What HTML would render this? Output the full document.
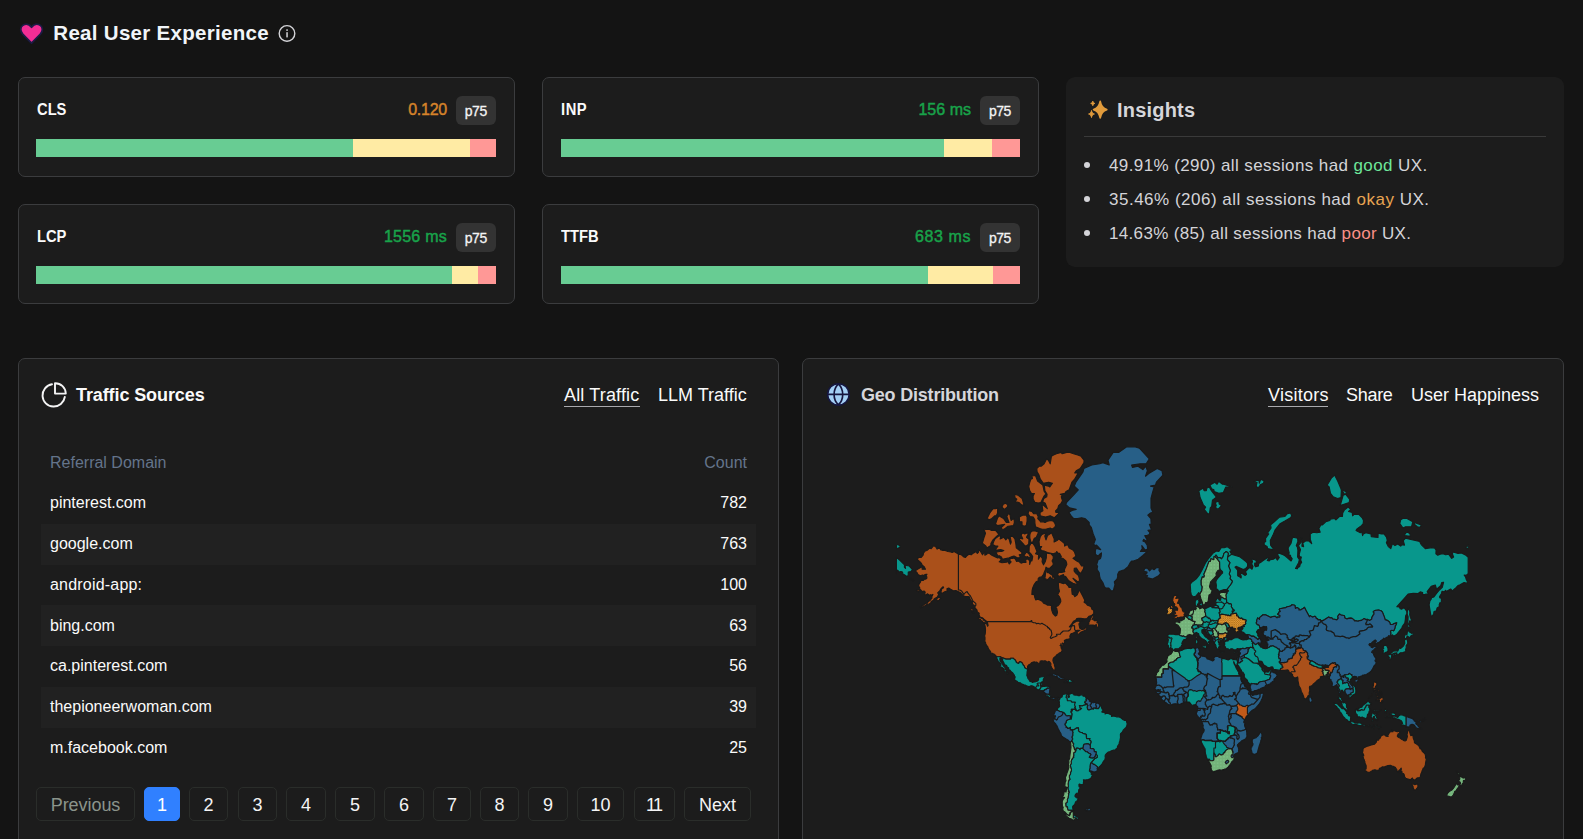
<!DOCTYPE html>
<html lang="en">
<head>
<meta charset="utf-8">
<title>Real User Experience</title>
<style>
*{box-sizing:border-box;margin:0;padding:0}
html,body{width:1583px;height:839px;overflow:hidden;background:#141414}
body{font-family:"Liberation Sans",Arial,sans-serif;color:#fff;position:relative}
.abs{position:absolute}
.t{position:absolute;white-space:nowrap;line-height:1}
.title{left:53.3px;top:22.6px;font-size:20.5px;font-weight:bold;color:#f1f5f9;letter-spacing:0.3px}
.card{position:absolute;background:#1c1c1c;border:1px solid #3b3c3e;border-radius:7px}
.mlabel{font-size:16px;font-weight:bold;color:#fafafa;letter-spacing:0;transform:scaleX(0.92);transform-origin:0 0}
.mval{font-size:16px;text-align:right;letter-spacing:0;-webkit-text-stroke:0.45px currentColor}
.badge{position:absolute;width:40.5px;height:29px;border-radius:6px;background:#333;color:#f4f4f5;font-size:14px;text-align:center;line-height:30px;letter-spacing:-0.45px;-webkit-text-stroke:0.3px currentColor}
.bar{position:absolute;height:18px;display:flex}
.bar i{display:block;height:100%}
.g{background:#68cc93}.y{background:#ffeba4}.r{background:#ff9896}
.green{color:#18a34a}.orange{color:#d6832a}
.ins{position:absolute;left:1066px;top:76.5px;width:498px;height:190px;border-radius:9px;background:#1c1c1c}
.li{font-size:17px;color:#d4d4d8;letter-spacing:0.4px}
.dot{position:absolute;width:6px;height:6px;border-radius:50%;background:#d4d4d8}
.tab{font-size:18px;color:#fafafa;letter-spacing:0}
.th{font-size:16px;color:#64748b;letter-spacing:0}
.td{font-size:16px;color:#fafafa;letter-spacing:0}
.row{position:absolute;left:41px;width:715px;height:41px;background:#212121}
.pg{position:absolute;top:787px;height:34px;border:1px solid #2a2d2a;border-radius:5px;font-size:18px;color:#f4f4f5;text-align:center;line-height:35px;letter-spacing:-0.05px}
.pg.on{background:#3080ff;border-color:#3080ff;color:#fff}
.pg.dis{color:#8b948b}
</style>
</head>
<body>

<!-- ===== Header ===== -->
<svg class="abs" style="left:16.7px;top:20px" width="29.1" height="26.9" viewBox="0 0 26 24">
  <path d="M13 20.6 L5.1 12.6 C2.6 10 2.9 6.4 5.2 4.8 C7.6 3.1 10.9 3.6 13 6.4 C15.1 3.6 18.4 3.1 20.8 4.8 C23.1 6.4 23.4 10 20.9 12.6 Z" fill="#f22d95" stroke="#1d1b45" stroke-width="1.6" stroke-linejoin="round"/>
</svg>
<div class="t title">Real User Experience</div>
<svg class="abs" style="left:277px;top:23px" width="20" height="20" viewBox="0 0 20 20">
  <circle cx="10" cy="10.4" r="7.8" fill="none" stroke="#d4d4d8" stroke-width="1.4"/>
  <rect x="9.3" y="9.2" width="1.5" height="5.2" fill="#d4d4d8"/>
  <rect x="9.3" y="6.3" width="1.5" height="1.6" fill="#d4d4d8"/>
</svg>

<!-- ===== Metric cards ===== -->
<div class="card" style="left:18px;top:76.5px;width:497px;height:100px"></div>
<div class="t mlabel" style="left:36.6px;top:102px">CLS</div>
<div class="t mval orange" style="right:1136px;top:102px;letter-spacing:-0.25px">0.120</div>
<div class="badge" style="left:455.5px;top:96px">p75</div>
<div class="bar" style="left:36px;top:139px;width:460px"><i class="g" style="width:317px"></i><i class="y" style="width:116.6px"></i><i class="r" style="width:26.4px"></i></div>

<div class="card" style="left:542px;top:76.5px;width:497px;height:100px"></div>
<div class="t mlabel" style="left:560.7px;top:102px;letter-spacing:0.6px">INP</div>
<div class="t mval green" style="right:612px;top:102px;letter-spacing:0.02px">156 ms</div>
<div class="badge" style="left:979.7px;top:96px">p75</div>
<div class="bar" style="left:561px;top:139px;width:459px"><i class="g" style="width:383px"></i><i class="y" style="width:48px"></i><i class="r" style="width:28px"></i></div>

<div class="card" style="left:18px;top:203.5px;width:497px;height:100px"></div>
<div class="t mlabel" style="left:36.6px;top:229px">LCP</div>
<div class="t mval green" style="right:1136px;top:229px;letter-spacing:0.25px">1556 ms</div>
<div class="badge" style="left:455.5px;top:223px">p75</div>
<div class="bar" style="left:36px;top:266px;width:460px"><i class="g" style="width:416px"></i><i class="y" style="width:26px"></i><i class="r" style="width:18px"></i></div>

<div class="card" style="left:542px;top:203.5px;width:497px;height:100px"></div>
<div class="t mlabel" style="left:560.7px;top:229px">TTFB</div>
<div class="t mval green" style="right:612px;top:229px;letter-spacing:0.6px">683 ms</div>
<div class="badge" style="left:979.7px;top:223px">p75</div>
<div class="bar" style="left:561px;top:266px;width:459px"><i class="g" style="width:367px"></i><i class="y" style="width:65px"></i><i class="r" style="width:27px"></i></div>

<!-- ===== Insights ===== -->
<div class="ins"></div>
<svg class="abs" style="left:1086px;top:96px" width="26" height="26" viewBox="0 0 26 26">
  <g fill="#e19b3c" stroke="#e19b3c" stroke-linejoin="round">
  <path stroke-width="1.7" d="M14.20 5.40 C15.10 10.20 17.60 12.70 20.80 13.60 C17.60 14.50 15.10 17.00 14.20 21.80 C13.30 17.00 10.80 14.50 7.60 13.60 C10.80 12.70 13.30 10.20 14.20 5.40 Z"/>
  <path stroke-width="0.9" d="M6.80 5.10 C7.10 6.50 7.70 7.10 8.90 7.40 C7.70 7.70 7.10 8.30 6.80 9.70 C6.50 8.30 5.90 7.70 4.70 7.40 C5.90 7.10 6.50 6.50 6.80 5.10 Z"/>
  <path stroke-width="1.0" d="M5.50 14.50 C5.90 16.80 6.70 17.60 8.40 18.00 C6.70 18.40 5.90 19.20 5.50 21.50 C5.10 19.20 4.30 18.40 2.60 18.00 C4.30 17.60 5.10 16.80 5.50 14.50 Z"/>
  </g>
</svg>
<div class="t" style="left:1117px;top:100px;font-size:20px;font-weight:bold;color:#d6d6da;letter-spacing:0.2px">Insights</div>
<div class="abs" style="left:1084px;top:136px;width:462px;height:1px;background:#3a3a3a"></div>
<div class="dot" style="left:1084px;top:162px"></div>
<div class="t li" style="left:1109px;top:157px">49.91% (290) all sessions had <span style="color:#6ee79a">good</span> UX.</div>
<div class="dot" style="left:1084px;top:196px"></div>
<div class="t li" style="left:1109px;top:191px;letter-spacing:0.5px">35.46% (206) all sessions had <span style="color:#e8a552">okay</span> UX.</div>
<div class="dot" style="left:1084px;top:230px"></div>
<div class="t li" style="left:1109px;top:225px;letter-spacing:0.33px">14.63% (85) all sessions had <span style="color:#fb8f87">poor</span> UX.</div>

<!-- ===== Traffic Sources ===== -->
<div class="card" style="left:18px;top:357.5px;width:761px;height:500px"></div>
<svg class="abs" style="left:39px;top:380px" width="30" height="30" viewBox="0 0 30 30">
  <path d="M13 4.3 A11.2 11.2 0 1 0 25.8 17" fill="none" stroke="#f4f4f5" stroke-width="1.9" stroke-linecap="round"/>
  <path d="M16 3.2 A10.6 10.6 0 0 1 26.8 13.6 L16 13.6 Z" fill="none" stroke="#f4f4f5" stroke-width="1.9" stroke-linejoin="round"/>
</svg>
<div class="t" style="left:76px;top:386px;font-size:18px;font-weight:bold;color:#fafafa;letter-spacing:-0.1px">Traffic Sources</div>
<div class="t tab" style="left:564px;top:386px;letter-spacing:0.15px">All Traffic</div>
<div class="abs" style="left:564px;top:406px;width:76px;height:1px;background:#a9a9ad"></div>
<div class="t tab" style="left:658px;top:386px">LLM Traffic</div>

<div class="t th" style="left:50px;top:455px">Referral Domain</div>
<div class="t th" style="right:836px;top:455px">Count</div>

<div class="row" style="top:524px"></div>
<div class="row" style="top:605px"></div>
<div class="row" style="top:687px"></div>

<div class="t td" style="left:50px;top:495px">pinterest.com</div><div class="t td" style="right:836px;top:495px">782</div>
<div class="t td" style="left:50px;top:536px">google.com</div><div class="t td" style="right:836px;top:536px">763</div>
<div class="t td" style="left:50px;top:577px;letter-spacing:0.2px">android-app:</div><div class="t td" style="right:836px;top:577px">100</div>
<div class="t td" style="left:50px;top:618px">bing.com</div><div class="t td" style="right:836px;top:618px">63</div>
<div class="t td" style="left:50px;top:658.4px">ca.pinterest.com</div><div class="t td" style="right:836px;top:658.4px">56</div>
<div class="t td" style="left:50px;top:699.2px">thepioneerwoman.com</div><div class="t td" style="right:836px;top:699.2px">39</div>
<div class="t td" style="left:50px;top:740px">m.facebook.com</div><div class="t td" style="right:836px;top:740px">25</div>

<div class="pg dis" style="left:36px;width:99px">Previous</div>
<div class="pg on" style="left:144px;width:36px">1</div>
<div class="pg" style="left:189px;width:39px">2</div>
<div class="pg" style="left:238px;width:39px">3</div>
<div class="pg" style="left:286px;width:40px">4</div>
<div class="pg" style="left:335px;width:40px">5</div>
<div class="pg" style="left:384px;width:40px">6</div>
<div class="pg" style="left:433px;width:38px">7</div>
<div class="pg" style="left:480px;width:39px">8</div>
<div class="pg" style="left:528px;width:40px">9</div>
<div class="pg" style="left:577px;width:47px">10</div>
<div class="pg" style="left:634px;width:41px;letter-spacing:-1.8px;text-indent:-1.8px">11</div>
<div class="pg" style="left:684px;width:67px">Next</div>

<!-- ===== Geo Distribution ===== -->
<div class="card" style="left:802px;top:357.5px;width:762px;height:500px"></div>
<svg class="abs" style="left:825.7px;top:381.9px" width="24.8" height="24.8" viewBox="0 0 24 24">
  <circle cx="12" cy="12" r="10.4" fill="#a3cff5" stroke="#15163f" stroke-width="1.5"/>
  <path d="M12 1.8 a14.5 14.5 0 0 0 0 20.4 a14.5 14.5 0 0 0 0 -20.4 M1.6 12 h20.8" fill="none" stroke="#15163f" stroke-width="1.6"/>
</svg>
<div class="t" style="left:861px;top:386px;font-size:18px;font-weight:bold;color:#d6d6da;letter-spacing:-0.2px">Geo Distribution</div>
<div class="t tab" style="left:1268px;top:386px;letter-spacing:0.25px">Visitors</div>
<div class="abs" style="left:1268px;top:406px;width:60px;height:1px;background:#a9a9ad"></div>
<div class="t tab" style="left:1346px;top:386px;letter-spacing:-0.3px">Share</div>
<div class="t tab" style="left:1411px;top:386px">User Happiness</div>

<!-- MAPSTART -->
<svg class="abs" style="left:0;top:0" width="1583" height="839" viewBox="0 0 1583 839">
<defs><pattern id="hx" width="2.2" height="2.2" patternUnits="userSpaceOnUse"><rect width="2.2" height="2.2" fill="#df9836"/><path d="M0 0L2.2 2.2M2.2 0L0 2.2" stroke="#b5741c" stroke-width="0.65"/></pattern><pattern id="dt" width="3.2" height="3.2" patternUnits="userSpaceOnUse"><rect width="3.2" height="3.2" fill="#74b27a"/><rect x="1.2" y="1.2" width="0.8" height="0.8" fill="#8fe3a3"/></pattern></defs>
<g stroke="#1a1a1a" stroke-width="1.15" stroke-linejoin="round">
<path fill="#275f87" d="M1066.4,502.5 1073.5,495.1 1078.3,489.8 1074.3,486.1 1075.9,482.2 1083,471.9 1083.8,468.5 1091.8,465 1099.7,463.8 1102.9,462.6 1109.2,465 1108,460.2 1113.2,452.4 1118.9,452.4 1126.7,446.8 1134.7,446.8 1139.4,448.2 1149.3,458.9 1146.2,463.8 1140.2,463.8 1131.6,465 1132.4,467.4 1138,466.2 1142.9,469.6 1145.9,466.2 1147.4,470.8 1145.5,476.2 1149.6,472.9 1157.2,468.5 1162,470.8 1162.9,475.1 1156.4,482.2 1155.5,485.1 1150.5,486.1 1154.2,487 1152.3,493.4 1151,498.5 1151,507.9 1152.9,512.3 1150.5,513 1147.8,515.1 1150.9,518.5 1151.2,524.3 1149.4,524.3 1151.5,529.8 1148,530.4 1149.9,532.7 1149.3,534.4 1147,535.6 1144.8,535.6 1146.9,539.4 1146.9,541.5 1143.7,539.4 1142.9,541 1145.1,542 1147.2,545.1 1147.7,549.1 1145,550.1 1143.7,548.1 1141.8,545.6 1142.3,548.6 1140.4,551.5 1144.7,551.5 1146.9,552 1142.6,555.7 1138.3,559.2 1133.5,561 1131.8,561 1130.2,562.7 1128,566.8 1124.5,569.7 1123.5,570 1121.3,570.8 1119.1,571.6 1117.7,574.3 1117.7,576.9 1116.9,579.1 1114.3,581.9 1115,584.7 1114.2,587.3 1113.4,590.6 1111.1,590.9 1108.8,588 1105.6,588 1104.2,586.3 1103,582.9 1100.3,578.7 1099.6,576.1 1099.2,572.7 1097,569.2 1097.6,566.4 1096.6,564.8 1098.2,559.7 1100.5,558.4 1101.1,556.6 1101.5,552.9 1099.7,554.3 1098.8,555.2 1097.3,555.7 1095.4,554.3 1095.3,551 1095.9,548.6 1097.5,548.6 1100.7,549.6 1098,546.6 1096.5,545.1 1094.9,545.6 1093.7,544.1 1095.4,539.4 1094.5,537.2 1093.2,533.9 1091.3,527.4 1089.2,524.9 1089.2,522.4 1084.9,518.5 1081.6,517.8 1077.3,518.5 1073.5,518.5 1071.6,516.5 1068.9,512.3 1073,510.1 1076.2,509.4 1069.5,507.9 1065.9,504.8 1066.4,502.5ZM1159.3,567.6 1159,570.4 1160.7,573.1 1158.6,575.8 1154,578.3 1152.6,579.1 1146.1,577.4 1147.7,575.8 1144.2,573.9 1147,573.1 1147,572 1143.7,571.2 1144.7,568.4 1147.2,568 1149.6,570.8 1152,568.4 1154,569.7 1156.6,567.6 1159.3,567.6Z"/>
<path fill="#aa501a" d="M958.4,554.3 961.4,554.8 963.9,557 965.5,557.5 966.9,555.7 968.8,554.3 971.2,554.8 973.6,552.9 976.1,551.5 977.3,553.4 978.4,552.4 978.8,550.1 980,550.5 982.5,554.8 984.7,551.5 984.9,555.2 986.8,554.3 987.4,552.9 989.3,553.4 991.9,555.2 995.5,557 997.7,557.9 999.3,557.5 1001.4,559.7 999.2,561.8 1002,562.7 1006.3,562.3 1007.8,561.5 1009.3,563.9 1011.1,561.8 1009.5,560.1 1010.5,558.4 1012.4,558.4 1013.6,557.9 1015.1,558.8 1016.6,561.4 1018.4,561 1021.1,563.1 1023.6,562.3 1026,562.3 1025.7,559.7 1027.1,558.8 1029.7,560.5 1029.7,564.4 1030.6,561 1031.9,561 1032.7,556.6 1030.9,553.8 1029,552 1029.2,546.6 1031.1,543.1 1033.2,543.6 1034.8,546.1 1037,551.5 1035.5,553.8 1038.6,554.8 1038.4,559.2 1040.6,555.7 1042.5,558.8 1042.1,561.8 1043.5,564.8 1045.2,561.8 1046.3,557.9 1046.5,552.9 1048.7,553.4 1051.1,553.8 1053.2,556.1 1053.3,558.4 1052.1,561 1053.2,563.1 1053,565.2 1050,568 1047.8,568.4 1046,567.2 1045.6,569.2 1044.1,572.7 1043.6,574.3 1041.7,576.9 1039.5,577.2 1038.2,578.7 1038.1,581 1036.3,581.5 1034.3,584.3 1032.7,588 1032.1,590.6 1031.9,594.4 1034.3,594.7 1034.9,597.8 1035.7,599.9 1037.9,599.3 1040.9,600.5 1042.5,601.6 1043.6,603.1 1045.6,603.9 1047.3,605.1 1049.8,605.3 1051.6,605.6 1051.4,607.9 1051.9,610.6 1053,613.5 1055.4,616.1 1056.7,615.3 1057.5,612.4 1056.7,608.4 1055.6,606.7 1058.1,605.6 1059.8,603.6 1060.8,601.6 1060.6,599.6 1059.5,596.9 1057.6,594.7 1059.5,591.3 1058.7,588.3 1058.3,583.3 1059.4,582.2 1062.1,583.3 1063.7,583.6 1065.1,582.9 1066.5,584 1068.4,586 1068.9,587.3 1071.8,587.3 1071.8,590.3 1072.2,594.2 1073.7,594.7 1074.9,596.6 1077.2,594.7 1078.7,591.3 1079.7,590 1081,592.8 1083,596.6 1084.8,600.3 1084.1,602.2 1086.2,603.6 1087.6,605.3 1090.2,606.2 1091.3,607 1091.9,609.2 1093,609.8 1093.7,610.6 1093.8,613.8 1092.7,614.5 1091.6,615.6 1088.9,616.3 1087,618.6 1084.3,618.9 1080.8,618.4 1078.4,618.4 1076.8,618.6 1075.6,620.4 1073.5,621.3 1071.2,624.7 1069.4,626.9 1070.6,626.4 1073.2,623.3 1076.5,621.3 1078.9,621.1 1080.3,622.3 1078.9,623.8 1079.4,626.4 1079.9,628.3 1081.9,629.4 1084.6,629 1086.2,626.4 1086.4,628 1087.3,629 1085.4,630.3 1081.8,631.7 1080.3,632.6 1078.4,634.4 1077.3,634.2 1077.2,632.1 1080,630.3 1077.5,630.3 1075.7,630.8 1074.6,629.4 1074.6,626.2 1074,625.4 1072.9,625.9 1072.4,625.4 1071.1,627.1 1070.6,629 1070,629.9 1069.4,630.3 1068.9,630.3 1068.7,631 1065.9,631 1063.3,631 1062.7,631.5 1061,633 1060.8,633.3 1060.3,634.2 1058.9,634.2 1057.3,634.2 1056.5,634.4 1056.8,634.8 1057,635.7 1057,635.7 1054.9,636.8 1053.2,637.2 1051.4,638.3 1051,638.3 1050.5,638.1 1050.3,637.7 1050.3,637.4 1050.6,636.8 1051.4,635.5 1051.9,634.2 1051.6,632.4 1051.1,630.3 1049.5,629.2 1049.7,628.7 1049.5,628.5 1049,628.5 1048.7,628 1048.7,627.6 1048.4,627.8 1047.9,627.8 1048.1,627.6 1047.6,627.3 1047.5,626.6 1046.2,625.9 1044.9,625 1043.5,624.3 1041.9,623.3 1040.5,624 1040,624 1038.1,623.3 1036.8,623.8 1035.2,622.8 1033.6,622.6 1032.5,622.3 1032.1,622.1 1031.7,620.6 1031.1,620.6 1031.1,621.6 1027.9,621.6 1022.4,621.6 1017.1,621.6 1012.2,621.6 1007.4,621.6 1002.8,621.6 998.1,621.6 996.5,621.6 991.7,621.6 987.3,621.6 987,621.6 983.9,619.2 982.8,618.1 980,617.1 979,614.8 979.2,613.2 977.3,611.9 976.9,609.8 975,607.9 975,606.5 975.9,605.1 975.8,603.4 973.1,601.3 970.4,596 969,594.4 968,593.2 967.1,591.6 965.5,592.5 963.9,594.4 961.5,590.9 959.9,590 958.4,590 958.4,569.6 958.4,554.3ZM958.4,554.3 958.4,569.6 958.4,590 959.9,590 961.5,590.9 963.9,594.4 965.5,592.5 967.1,591.6 968,593.2 969,594.4 970.4,596 973.1,601.3 975.8,603.4 975.9,605.1 975,606.5 974.1,605.3 972.7,604.5 972.2,601.9 970.3,599.6 969.3,596.9 967.9,596.6 965.3,596.6 963.4,595.7 960.1,592.5 955.8,590.6 953.7,590.9 950.6,589.3 948.7,588 946.9,588.7 947.2,591 946.3,591.3 944.5,591.9 943.1,592.8 941.4,593.5 941,591.9 941.8,588.7 943.6,587.7 943.1,586.7 941,588.7 939.9,590.6 937.7,592.8 938.8,594.4 937.4,596.9 935.6,598.1 934.1,599 933.6,600.2 931.2,601.6 930.7,603.1 928.8,604.2 927.7,604.2 926.3,604.8 924.7,605.9 923.3,606.7 920.6,607.6 920.4,607 922.1,605.9 923.6,605.1 925.3,603.4 927.2,603.1 928,601.9 930.2,600.2 930.6,599.6 931.8,598.4 932,596.3 932.9,594.4 931,595.3 930.6,594.7 929.6,596 928.7,594.4 928.2,595.3 927.5,593.8 926,595 925.1,595 924.8,593.2 925.2,592.2 924.2,591 922.1,591.6 920.7,590 919.8,589.3 919.6,587.3 918.5,586 919.1,584 920.4,582.2 920.9,580.5 922.1,580.1 923.3,580.5 924.5,579.1 925.8,579.1 926.9,578 926.7,576.5 925.8,575.8 926.9,574.3 926,574.3 924.2,575 923.7,576.1 922.6,575 920.3,575.8 918,574.6 917.4,573.1 915.3,570.8 917.5,569.2 921,567.2 922.3,567.2 922.1,569.2 925.5,569.2 924.2,566.8 922.3,565.2 921.2,563.1 919.6,561.4 917.4,559.7 918.3,557.5 921.2,557.5 923.1,555.2 923.6,552.9 925.2,551 926.8,550.5 929.8,548.1 931.2,548.6 933.6,545.6 936,547.1 937.2,549.1 937.9,548.1 940.6,548.6 940.4,549.6 943,550.5 944.5,550.1 947.9,551.5 950.9,552 952.2,552.5 954.2,551.5 956.6,552.9 958.4,554.3ZM987.3,621.6 991.7,621.6 996.5,621.6 998.1,621.6 1002.8,621.6 1007.4,621.6 1012.2,621.6 1017.1,621.6 1022.4,621.6 1027.9,621.6 1031.1,621.6 1031.1,620.6 1031.7,620.6 1032.1,622.1 1032.5,622.3 1033.6,622.6 1035.2,622.8 1036.8,623.8 1038.1,623.3 1040,624 1040.5,624 1041.9,623.3 1043.5,624.3 1044.9,625 1046.2,625.9 1047.5,626.6 1047.6,627.3 1048.1,627.6 1047.9,627.8 1048.4,627.8 1048.7,627.6 1048.7,628 1049,628.5 1049.5,628.5 1049.7,628.7 1049.5,629.2 1051.1,630.3 1051.6,632.4 1051.9,634.2 1051.4,635.5 1050.6,636.8 1050.3,637.4 1050.3,637.7 1050.5,638.1 1051,638.3 1051.4,638.3 1053.2,637.2 1054.9,636.8 1057,635.7 1056.8,634.8 1056.5,634.4 1057.3,634.2 1058.9,634.2 1060.3,634.2 1060.8,633.3 1061,633 1062.7,631.5 1063.3,631 1065.9,631 1068.7,631 1068.9,630.3 1069.4,630.3 1070,629.9 1070.6,629 1071.1,627.1 1072.4,625.4 1072.9,625.9 1074,625.4 1074.6,626.2 1074.6,629.4 1075.7,630.8 1076,631.5 1074.3,632.6 1072.6,633.3 1071,633.9 1070.2,635.3 1069.9,635.7 1069.9,637 1070.3,638.1 1071,638.1 1070.8,637.4 1071.3,637.9 1071.2,638.5 1070.2,638.7 1069.4,638.7 1068.1,639.2 1067.5,639.2 1066.5,639.4 1065.2,640 1067.6,639.6 1068.1,640 1065.9,640.6 1064.8,640.6 1064.8,640.2 1064.3,640.9 1064.8,641.1 1064.5,642.5 1063.3,644.2 1063.2,643.6 1062.9,643.6 1062.4,643 1062.7,644.1 1063,644.4 1063,645.2 1062.5,646 1061.8,647.7 1061.6,647.5 1062.1,646.2 1061.3,645.4 1061,643.6 1060.8,644.6 1061.1,645.8 1060,645.6 1061.1,646.2 1061.1,648.1 1061.6,648.3 1061.8,648.9 1062.1,650.9 1061,652.4 1059.4,653 1058.3,654.2 1057.5,654.2 1056.7,655 1056.5,655.5 1054.8,656.9 1053.8,657.8 1053.2,658.9 1052.9,660.3 1053.2,661.6 1053.7,663 1054.4,664.3 1054.4,665.2 1055.1,667.2 1055.1,668.5 1055.1,669.2 1054.6,670.3 1054.1,670.4 1053.3,670.3 1053.2,669.6 1052.5,669 1051.7,667.6 1051,666.1 1050.6,665.4 1051,664.1 1050.6,663.2 1049.4,661.7 1048.7,661.4 1047.1,662.3 1046.8,662.1 1046,661.2 1045.1,660.8 1043.3,661 1041.9,660.8 1040.6,661 1040,661.2 1040.3,661.7 1040.3,662.5 1040.6,662.9 1040.3,663 1039.7,662.9 1039,663.2 1037.9,663.2 1036.8,662.1 1035.4,662.3 1034.3,661.9 1033.3,662.1 1031.9,662.5 1030.5,664 1028.9,664.7 1028.1,665.6 1027.6,666.3 1027.6,667.6 1027.8,668.5 1028.1,669 1027.4,669.2 1026.3,668.7 1025.1,668.1 1024.6,667.4 1024.3,666.1 1023.3,665.1 1022.7,664 1022,662.7 1020.8,661.9 1019.5,661.9 1018.6,663.5 1017.3,662.9 1016.3,662.3 1016,661.4 1015.5,660.4 1014.6,659.5 1013.8,658.9 1013.2,658.2 1010.5,658.2 1010.5,659.1 1009.2,659.1 1006,659.1 1002.4,657.8 1000,656.9 1000.1,656.5 998.1,656.7 996.3,656.9 996,655.9 995,654.8 994.3,654.6 994.1,654 993.1,653.8 992.7,653.4 991.1,653.2 990.8,652.8 990.6,651.6 989,649.7 987.7,646.9 987.7,646.5 987,645.8 985.8,644.1 985.5,642.3 984.7,641.3 985,639.6 985,637.7 984.6,635.9 985.2,633.9 985.4,631.9 985.5,629.9 985.2,626.6 984.7,624.7 984.2,623.5 984.4,623 986.8,624 987.6,626.2 988.1,625.4 987.7,623.5 987.3,621.6Z"/>
<path fill="#08978c" d="M996.3,656.9 998.1,656.7 1000.1,656.5 1000,656.9 1002.4,657.8 1006,659.1 1009.2,659.1 1010.5,659.1 1010.5,658.2 1013.2,658.2 1013.8,658.9 1014.6,659.5 1015.5,660.4 1016,661.4 1016.3,662.3 1017.3,662.9 1018.6,663.5 1019.5,661.9 1020.8,661.9 1022,662.7 1022.7,664 1023.3,665.1 1024.3,666.1 1024.6,667.4 1025.1,668.1 1026.3,668.7 1027.4,669.2 1028.1,669 1027.4,670.6 1027.1,671.9 1027,674.3 1026.8,675.2 1027.1,676 1027.6,676.9 1027.9,678.3 1029,679.5 1029.4,680.5 1030,681.4 1031.7,681.7 1032.4,682.5 1033.8,682 1034.9,681.9 1036.2,681.5 1037.1,681.2 1038.1,680.5 1038.6,679.5 1038.6,678.1 1038.9,677.6 1040,677.1 1041.7,676.7 1043,676.7 1044,676.7 1044.4,677.1 1044.4,677.9 1043.5,678.8 1043.2,680 1043.5,680.2 1043.2,681 1042.9,682.2 1042.4,681.9 1042.1,681.9 1041.7,681.9 1041.3,682.9 1040.9,682.7 1040.6,683 1039.2,683 1037.8,683 1037.8,683.9 1037,683.9 1038.2,684.9 1038.7,685.4 1038.7,685.9 1036.7,685.9 1035.9,687.2 1036,687.6 1035.9,688.1 1035.9,688.6 1034,686.7 1033.2,686.2 1031.9,685.7 1030.9,685.9 1029.7,686.4 1028.9,686.6 1027.8,686.2 1026.7,685.9 1025.2,685.1 1024,684.9 1022.2,684.1 1020.8,683.4 1020.5,682.9 1019.5,682.7 1017.9,682.2 1017.3,681.5 1015.5,680.5 1014.7,679.5 1014.4,678.6 1014.9,678.5 1014.7,677.9 1015.1,677.4 1015.1,676.9 1014.6,676 1014.4,675.4 1013.9,674.5 1012.5,672.7 1010.9,671.5 1010.1,670.3 1008.7,669.6 1008.5,669.2 1008.7,668.1 1007.9,667.6 1007,666.7 1006.6,665.4 1005.7,665.4 1004.7,664.3 1004.1,663.5 1003.9,662.9 1003.1,661.6 1002.5,660.1 1002.7,659.3 1001.4,658.6 1000.9,658.8 1000,658.2 999.8,658.9 1000,659.9 1000.1,661.2 1000.8,661.9 1001.9,663.2 1002.2,663.8 1002.4,663.8 1002.7,664.5 1002.9,664.5 1003.1,665.6 1003.6,666.1 1004.1,666.7 1005.1,667.6 1005.5,669.4 1006,670.1 1006.5,671 1006.5,671.9 1007.3,671.9 1007.9,672.7 1008.5,673.4 1008.5,673.8 1007.8,674.5 1007.6,674.5 1007.1,673.4 1006.2,672.4 1004.9,671.5 1004.1,671.2 1004.3,669.7 1003.9,668.8 1003.1,668.3 1002,667.4 1001.9,667.8 1001.6,667.2 1000.4,666.9 999.5,665.8 999.7,665.6 1000.3,665.8 1000.9,665.1 1000.9,664.1 999.8,662.9 998.9,662.3 998.2,661.2 997.6,660.1 997,658.6 996.3,656.9ZM1035.9,688.6 1035.9,688.1 1036,687.6 1035.9,687.2 1036.7,685.9 1038.7,685.9 1038.7,685.4 1038.2,684.9 1037,683.9 1037.8,683.9 1037.8,683 1039.2,683 1040.6,683 1040.9,682.7 1041.3,682.9 1041.7,681.9 1042.1,681.9 1042.4,682.2 1042.1,683.4 1042.2,684.4 1041.9,685.2 1041.1,686.2 1041.6,686.6 1042.2,686.6 1040.6,687.6 1040.6,688.2 1040.3,688.7 1040,688.7 1039.2,689.6 1039.2,689.9 1037.5,689.6 1035.9,688.6ZM1039.2,689.9 1039.2,689.6 1040,688.7 1040.3,688.7 1040.6,688.2 1040.6,687.6 1042.2,686.6 1042.4,686.6 1042.7,686.2 1044.3,686.4 1045.7,686.2 1046.7,686.2 1047.3,686.1 1048.3,686.4 1049.2,687.1 1049.8,687.2 1050.3,687.7 1049.7,687.7 1048.9,688.2 1048.1,688.4 1047.3,688.1 1046,689.7 1045.6,689.4 1044.4,689.7 1044.4,690.5 1043.6,691.1 1043.3,690.5 1042.9,690.4 1042.7,690.9 1041.7,690.7 1041.3,690.5 1040.5,690.2 1039.7,690.2 1039.2,689.9Z"/>
<path fill="#275f87" d="M1050.3,687.7 1050,688.9 1049.7,690.1 1049.7,691.2 1049.5,692.2 1049.4,693.3 1049,693.7 1049.4,694.5 1048.6,694.7 1047.8,694.2 1046.3,694 1046.2,694.2 1044.9,693 1044.6,692.5 1043.8,691.9 1043,691.2 1043.2,690.9 1043.5,691.2 1043.6,691.1 1044.4,690.5 1044.4,689.7 1045.6,689.4 1046,689.7 1047.3,688.1 1048.1,688.4 1048.9,688.2 1049.7,687.7 1050.3,687.7Z"/>
<path fill="#08978c" d="M1049.4,694.5 1049.8,695.3 1050.6,696.1 1051.3,696.6 1050.6,696.8 1050.6,697.4 1051,697.8 1050.6,697.9 1050.8,698.7 1050.6,699.1 1050.5,698.9 1049.7,698.6 1049.4,698.1 1049.5,697.9 1049.5,697.4 1048.4,696.8 1047.9,696.6 1047.8,696.1 1047.3,695.8 1047.5,696.3 1047.1,696.6 1046.8,696.3 1046.2,696.1 1046,695.8 1046,695.3 1046.2,694.7 1045.9,694.5 1046.2,694.2 1046.3,694 1047.8,694.2 1048.6,694.7 1049.4,694.5Z"/>
<path fill="#275f87" d="M1051.3,696.6 1051.7,697.3 1052.5,697.6 1053,697.9 1053.8,697.8 1054.4,697.4 1055.4,697.1 1055.9,696.6 1056.8,696.8 1057.6,696.9 1058.9,697.8 1059.4,698.1 1059.2,698.4 1059.7,699.4 1059.4,699.9 1058.7,699.7 1058.6,700.5 1058.1,700 1057.8,699.2 1058.1,698.7 1057.8,698.6 1057.5,698.1 1056.7,697.6 1055.9,697.8 1055.6,698.2 1054.9,698.7 1054.6,698.7 1054.4,699.1 1055.2,700 1054.8,700.2 1054.6,700.3 1053.8,700.5 1053.5,699.5 1053.3,699.9 1052.9,699.7 1052.5,699.1 1051.9,698.9 1051.4,698.7 1050.8,698.7 1051,697.8 1050.6,697.4 1050.6,696.8 1051.3,696.6ZM1051.6,673.8 1053,674 1054.3,674 1055.7,674.5 1056.4,675.2 1057.9,675 1058.4,675.4 1059.8,676.4 1060.8,677.3 1061.3,677.3 1062.2,677.6 1062.1,678.1 1063.3,678.1 1064.5,678.8 1064.3,679.1 1063.2,679.5 1062.2,679.5 1061.1,679.4 1058.7,679.5 1059.8,678.6 1059.2,678.1 1058.3,678.1 1057.6,677.6 1057.3,676.6 1056.4,676.6 1054.9,676.2 1054.4,675.9 1052.4,675.5 1051.7,675.2 1052.4,674.8 1050.8,674.7 1049.7,675.5 1049,675.5 1048.7,676 1048.1,676.2 1047.3,676 1048.3,675.5 1048.6,674.8 1049.2,674.5 1050,674.2 1051.3,674 1051.6,673.8ZM1066,679.5 1067,679.5 1068.4,679.8 1068.6,679.5 1068.4,679.8 1068.4,681.4 1068.1,681.7 1068.4,682.2 1068.4,682.7 1067.3,682.4 1065.6,682.4 1064.9,682.7 1064,682.2 1064.1,681.5 1066.8,682 1067.5,681.5 1066.7,680.8 1066.7,680.2 1065.7,680 1066,679.5Z"/>
<path fill="#08978c" d="M1068.4,679.8 1068.6,679.5 1069.9,679.5 1070.8,680 1071.2,680 1071.4,680.5 1072.4,680.5 1072.2,681 1073,681.1 1073.8,681.7 1073.2,682.4 1072.4,682 1071.8,682 1071.2,682 1071,682.4 1070.3,682.4 1070,682 1069.5,682.2 1068.9,683.4 1068.4,683 1068.4,682.7 1068.4,682.2 1068.1,681.7 1068.4,681.4 1068.4,679.8ZM1059.4,698.1 1060.3,698.2 1061.4,697.1 1062.1,696.9 1062.4,695 1063.3,694.2 1064.3,694.2 1064.5,693.8 1065.7,694 1067,693.2 1067.6,692.8 1068.3,692 1068.9,692 1069.4,692.5 1069.1,693 1068,693.3 1067.6,694.2 1067,694.7 1066.5,695.1 1066.4,696.4 1065.9,697.3 1066.7,697.4 1066.8,698.2 1067.3,698.6 1067.3,699.2 1067.2,699.9 1067.3,700.2 1067.6,700.3 1068,700.8 1070,700.7 1071,700.9 1072.1,702.3 1072.7,702.1 1073.8,702.1 1074.8,702 1075.4,702.3 1075.1,703.1 1074.8,703.7 1074.6,704.9 1074.9,706 1075.4,706.5 1075.4,706.8 1074.6,707.6 1075.3,707.9 1075.6,708.4 1076,710 1075.7,710.3 1075.4,709.4 1075.1,708.9 1074.5,709.4 1071.4,709.4 1071.4,710.3 1072.4,710.5 1072.2,711.1 1071.9,711 1071.1,711.3 1071.1,712.4 1071.8,712.9 1072.1,713.9 1072.1,714.7 1071.3,719 1070.5,718.2 1070,718 1071.1,716.4 1069.9,715.8 1068.9,715.8 1068.3,715.6 1067.5,716 1066.2,715.8 1065.2,714.2 1064.6,713.7 1064.1,712.9 1063,712.3 1062.5,712.4 1061.9,711.9 1061.1,711.5 1060.6,711.6 1059.4,711.5 1058.9,710.8 1058.6,710.8 1057,709.9 1056.8,709.4 1057.5,709.2 1057.3,708.4 1057.8,707.9 1058.6,707.8 1059.2,706.8 1059.8,706 1059.2,705.5 1059.5,704.5 1059.2,703.1 1059.5,702.8 1059.2,701.3 1058.6,700.5 1058.7,699.7 1059.4,699.9 1059.7,699.4 1059.2,698.4 1059.4,698.1ZM1069.1,693 1068.9,693.5 1068,693.7 1068.6,694.4 1068.6,695.3 1067.8,696.1 1068.4,697.4 1069.1,697.4 1069.5,696.1 1068.9,695.6 1068.9,694.4 1070.8,693.7 1070.6,693 1071.3,692.4 1071.8,693.5 1072.9,693.7 1074,694.5 1074,695 1075.4,695.1 1077.2,695 1078,695.6 1079.2,695.8 1080.2,695.3 1080.2,695 1082.1,694.8 1084,694.8 1082.7,695.3 1083.2,696.1 1084.5,696.1 1085.7,696.9 1085.9,698.2 1086.7,698.2 1087.3,698.6 1086.1,699.5 1086.5,700.8 1086.2,701 1085.1,701.3 1085.3,702.1 1084.8,702.5 1085.9,703.7 1086.1,704.2 1085.4,704.9 1083.7,705.3 1082.6,705.7 1082.1,706 1080.8,705.7 1079.7,705.5 1079.4,705.5 1080,706 1080,707.1 1080.2,708.1 1081.6,708.2 1081.6,708.6 1080.5,709 1080.3,709.7 1078.4,710.3 1078.3,710.8 1077,711 1076,710 1075.6,708.4 1075.3,707.9 1074.6,707.6 1075.4,706.8 1075.4,706.5 1074.9,706 1074.6,704.9 1074.8,703.7 1075.1,703.1 1075.4,702.3 1074.8,702 1073.8,702.1 1072.7,702.1 1072.1,702.3 1071,700.9 1070,700.7 1068,700.8 1067.6,700.3 1067.3,700.2 1067.2,699.9 1067.3,699.2 1067.3,698.6 1066.8,698.2 1066.7,697.4 1065.9,697.3 1066.4,696.4 1066.5,695.1 1067,694.7 1067.6,694.2 1068,693.3 1069.1,693Z"/>
<path fill="#275f87" d="M1087.3,698.6 1088.4,699.2 1089.4,700.3 1089.4,701.2 1090,701.2 1091.6,702.5 1091.8,702.5 1093.5,702.8 1093.7,702.5 1094.9,702.4 1096.6,702.8 1098.3,703.4 1100,704.7 1100.2,705.3 1099.4,707 1098.8,708.1 1098.3,708.7 1097.5,708.7 1097.2,708.4 1096.9,708.2 1096.4,708.7 1095.7,708.4 1094.8,708.1 1094,708.2 1093.4,708.1 1093.2,708.6 1093.5,708.9 1093.4,709.2 1092.6,708.9 1091.5,709 1090.7,709.4 1089.5,709.7 1089.4,710 1088.6,710 1087.6,709.2 1087.5,708.6 1087.1,707.6 1087.3,706.3 1087.8,705.7 1087.3,705 1086.8,704.7 1087,704.1 1086.7,703.7 1085.9,703.7 1084.8,702.5 1085.3,702.1 1085.1,701.3 1086.2,701 1086.5,700.8 1086.1,699.5 1087.3,698.6Z"/>
<path fill="#08978c" d="M1100.2,705.3 1100.8,705.3 1101.1,706.2 1102.1,709 1102.9,709.4 1103,710.5 1101.8,711.8 1102.3,712.3 1105.1,712.4 1105.1,714 1106.4,713.1 1108.3,713.5 1111,714.7 1111.8,715.5 1111.5,716.4 1113.4,716 1116.4,716.8 1118.8,716.8 1121.2,718 1123.2,719.8 1124.3,720.3 1125.8,720.3 1126.4,720.9 1126.9,722.9 1127.2,723.9 1126.6,726.6 1125.8,727.6 1123.5,729.9 1122.4,731.8 1121.3,733.2 1120.8,733.3 1120.4,734.5 1120.5,737.6 1120,740.1 1119.9,741.3 1119.4,742 1119.1,744.2 1117.5,746.4 1117.3,748.2 1115.9,749 1115.6,750 1113.8,750 1111.5,750.8 1110.2,751.5 1108.4,752 1106.7,753.4 1105.3,755.2 1105.1,756.4 1105.3,757.5 1105,759.3 1104.6,760.2 1103.5,761.2 1101.8,764.5 1100.3,766 1099.2,766.8 1098.6,768.7 1097.5,769.8 1097,768.7 1097.8,767.7 1096.9,766.4 1095.6,765.4 1094,764.3 1093.4,764.3 1091.8,762.8 1090.8,763 1092.9,760.6 1094.6,758.8 1097.2,757.2 1097.2,755.5 1096.4,754.5 1095.6,754.8 1095.9,753.9 1096.1,752.9 1096.1,751.8 1095.4,751.5 1094.9,751.8 1094.3,751.7 1094.2,751.1 1094,749.5 1093.7,749 1092.6,748.5 1091.9,748.8 1090.3,748.5 1090.3,746.1 1089.9,745.2 1090.3,744.8 1090.3,743.9 1090.7,743.2 1091,741.8 1090.7,740.8 1089.7,740.3 1089.5,739.6 1089.9,738.6 1086.7,738.6 1086.2,736.6 1086.5,736.6 1086.5,735.8 1086.2,735.5 1086.2,734.5 1085.3,734 1084.3,734 1083.7,733.5 1082.6,733.2 1081.9,732.5 1080.2,732.3 1078.4,730.9 1078.6,729.7 1078.4,727.9 1076.5,728.1 1075.6,728.7 1074.3,729.4 1073.8,729.9 1073,729.9 1071.9,729.8 1071,730 1070.3,729.9 1070.3,727.4 1069.1,728.4 1067.6,728.4 1067,727.4 1066,727.4 1066.4,726.6 1065.4,725.6 1064.8,724.2 1065.2,723.9 1065.2,723.2 1066.2,722.7 1066,721.9 1066.4,721.3 1066.5,720.6 1068.4,719.5 1069.7,719.2 1069.9,719 1071.3,719 1072.1,714.7 1072.1,713.9 1071.8,712.9 1071.1,712.4 1071.1,711.3 1071.9,711 1072.2,711.1 1072.4,710.5 1071.4,710.3 1071.4,709.4 1074.5,709.4 1075.1,708.9 1075.4,709.4 1075.7,710.3 1076,710 1077,711 1078.3,710.8 1078.4,710.3 1080.3,709.7 1080.5,709 1081.6,708.6 1081.6,708.2 1080.2,708.1 1080,707.1 1080,706 1079.4,705.5 1079.7,705.5 1080.8,705.7 1082.1,706 1082.6,705.7 1083.7,705.3 1085.4,704.9 1086.1,704.2 1085.9,703.7 1086.7,703.7 1087,704.1 1086.8,704.7 1087.3,705 1087.8,705.7 1087.3,706.3 1087.1,707.6 1087.5,708.6 1087.6,709.2 1088.6,710 1089.4,710 1089.5,709.7 1090.7,709.4 1091.5,709 1092.6,708.9 1093.4,709.2 1093.5,708.9 1093.2,708.6 1093.4,708.1 1094,708.2 1094.8,708.1 1095.7,708.4 1096.4,708.7 1096.9,708.2 1097.2,708.4 1097.5,708.7 1098.3,708.7 1098.8,708.1 1099.4,707 1100.2,705.3Z"/>
<path fill="#275f87" d="M1054.8,717.6 1055.6,716.4 1055.3,715.6 1054.6,716.4 1053.7,715.6 1054,715.3 1053.8,713.9 1054.3,713.5 1054.6,712.6 1055.2,711.5 1055.1,710.8 1056,710.5 1057,709.9 1058.6,710.8 1058.9,710.8 1059.4,711.5 1060.6,711.6 1061.1,711.5 1061.9,711.9 1062.5,712.4 1062.9,713.5 1062.4,714.7 1060.6,716.3 1058.7,716.9 1057.6,718.4 1057.5,719.3 1056.5,720.1 1055.9,719.3 1055.2,719 1054.6,719.2 1054.4,718.7 1054.9,718.2 1054.8,717.6ZM1071.8,740.8 1072.8,739 1072.1,737.6 1072.4,737 1072.2,736.4 1072.9,735.6 1072.9,734.1 1072.9,733 1073.2,732.5 1071.9,729.8 1071,730 1070.3,729.9 1070.3,727.4 1069.1,728.4 1067.6,728.4 1067,727.4 1066,727.4 1066.4,726.6 1065.4,725.6 1064.8,724.2 1065.2,723.9 1065.2,723.2 1066.2,722.7 1066,721.9 1066.4,721.3 1066.5,720.6 1068.4,719.5 1069.7,719.2 1069.9,719 1071.3,719 1070.5,718.2 1070,718 1071.1,716.4 1069.9,715.8 1068.9,715.8 1068.3,715.6 1067.5,716 1066.2,715.8 1065.2,714.2 1064.6,713.7 1064.1,712.9 1063,712.3 1062.5,712.4 1062.9,713.5 1062.4,714.7 1060.6,716.3 1058.7,716.9 1057.6,718.4 1057.5,719.3 1056.5,720.1 1055.9,719.3 1055.2,719 1054.6,719.2 1054.4,718.7 1054.9,718.2 1054.8,717.6 1053.8,718.7 1053,719.7 1053.7,721.3 1053.3,721.9 1054.4,722.6 1055.6,723.7 1056.2,724.8 1056.8,725.6 1058.3,728.9 1059.8,731.8 1061.1,734 1061,734.5 1061.6,735.8 1062.9,737 1065.7,738.8 1068.7,740.5 1068.9,741.2 1070.5,742 1071.3,741.7 1071.8,740.8Z"/>
<path fill="#08978c" d="M1082.6,748.3 1080.7,748.3 1080,749.7 1079.1,748.5 1077,748 1075.7,749.5 1074.6,749.9 1074,747.5 1073,745.6 1073.7,743.9 1072.8,743.1 1072.6,742 1071.8,740.8 1072.8,739 1072.1,737.6 1072.4,737 1072.2,736.4 1072.9,735.6 1072.9,734.1 1072.9,733 1073.2,732.5 1071.9,729.8 1073,729.9 1073.8,729.9 1074.3,729.4 1075.6,728.7 1076.5,728.1 1078.4,727.9 1078.6,729.7 1078.4,730.9 1080.2,732.3 1081.9,732.5 1082.6,733.2 1083.7,733.5 1084.3,734 1085.3,734 1086.2,734.5 1086.2,735.5 1086.5,735.8 1086.5,736.6 1086.2,736.6 1086.7,738.6 1089.9,738.6 1089.5,739.6 1089.7,740.3 1090.7,740.8 1091,741.8 1090.7,743.2 1090.3,743.9 1090.3,744.8 1089.9,745.2 1089.9,744.7 1088.4,743.9 1087,743.7 1084.1,744.2 1083.4,745.7 1083.4,746.8 1082.7,748.7 1082.6,748.3Z"/>
<path fill="#275f87" d="M1082.7,748.7 1083.4,746.8 1083.4,745.7 1084.1,744.2 1087,743.7 1088.4,743.9 1089.9,744.7 1089.9,745.2 1090.3,746.1 1090.3,748.5 1091.9,748.8 1092.6,748.5 1093.7,749 1094,749.5 1094.2,751.1 1094.3,751.7 1094.9,751.8 1095.4,751.5 1096.1,751.8 1096.1,752.9 1095.9,753.9 1095.6,754.8 1095.3,756.4 1093.8,757.9 1092.6,758.1 1090.8,757.9 1089.2,757.3 1090.8,754.6 1090.5,753.9 1088.9,753.2 1087,751.8 1085.7,751.6 1082.7,748.7ZM1090.8,763 1091.8,762.8 1093.4,764.3 1094,764.3 1095.6,765.4 1096.9,766.4 1097.8,767.7 1097,768.7 1097.5,769.8 1096.9,771 1095.1,772.1 1093.8,771.8 1093,772 1091.6,771 1090.5,771.2 1089.5,770 1089.7,768.9 1090,768.3 1090,766.4 1090.3,764.5 1090.8,763Z"/>
<path fill="#08978c" d="M1073.3,811.8 1073.8,813.1 1074.6,815.3 1076.7,816.9 1078.9,817.5 1078.3,818.9 1076.7,819.1 1076,818 1074.9,818 1073.3,818 1073.3,811.8ZM1090.8,763 1090.3,764.5 1090,766.4 1090,768.3 1089.7,768.9 1089.4,771 1091.5,772.8 1091.1,774.1 1092.2,774.9 1092.1,775.9 1090.7,778.6 1088.3,779.6 1085.1,780 1083.4,779.8 1083.7,781 1083.4,782.7 1083.7,783.8 1082.7,784.4 1081,784.8 1079.5,784 1078.9,784.6 1079.1,786.8 1080.2,787.4 1081,786.5 1081.4,787.8 1080,788.5 1078.7,789.8 1078.6,792.1 1078.1,793.2 1076.7,793.2 1075.4,794.6 1074.9,796.2 1076.5,797.8 1078.1,798.3 1077.5,800.4 1075.6,801.9 1074.6,804.8 1073.2,805.8 1072.6,806.8 1073,809.7 1074.1,811 1073.3,811 1071.9,810.4 1068.1,810.2 1067.5,808.6 1067.5,806.8 1066.4,806.8 1065.9,806.1 1065.7,803.3 1067,802.4 1067.5,800.7 1067.3,799.5 1068.1,797.6 1068.6,794.6 1068.4,793.1 1069.2,792.7 1069.1,791.8 1068.3,791.4 1068.7,790.5 1068.1,789.6 1067.8,787.2 1068.4,786.8 1068.1,784 1068.4,781.9 1068.9,780 1069.9,779.4 1069.4,777.3 1069.4,775.5 1070.5,774.1 1070.5,772.6 1071.4,770.6 1071.4,768.9 1071,768.5 1070.3,765.3 1071.3,763.2 1071.1,761.5 1071.6,759.9 1072.7,758.1 1073.8,757 1073.3,756.3 1073.7,755.7 1073.7,752.7 1075.4,751.8 1075.9,750 1075.7,749.5 1077,748 1079.1,748.5 1080,749.7 1080.7,748.3 1082.6,748.3 1082.7,748.7 1085.7,751.6 1087,751.8 1088.9,753.2 1090.5,753.9 1090.8,754.6 1089.2,757.3 1090.8,757.9 1092.6,758.1 1093.8,757.9 1095.3,756.4 1095.6,754.8 1096.4,754.5 1097.2,755.5 1097.2,757.2 1094.6,758.8 1092.9,760.6 1090.8,763Z"/>
<path fill="url(#dt)" d="M1073.3,811.8 1073.3,818 1074.9,818 1076,818 1075.4,819.1 1074.1,820 1073.3,820 1072.4,819.7 1071.2,818.9 1069.5,818.6 1067.5,816.9 1065.9,815.4 1063.7,812.3 1065.1,812.8 1067.3,814.7 1069.4,815.8 1070.2,814.4 1070.6,812.6 1072.2,811.5 1073.3,811.8ZM1071.8,740.8 1072.6,742 1072.8,743.1 1073.7,743.9 1073,745.6 1074,747.5 1074.6,749.9 1075.7,749.5 1075.9,750 1075.4,751.8 1073.7,752.7 1073.7,755.7 1073.3,756.3 1073.8,757 1072.7,758.1 1071.6,759.9 1071.1,761.5 1071.3,763.2 1070.3,765.3 1071,768.5 1071.4,768.9 1071.4,770.6 1070.5,772.6 1070.5,774.1 1069.4,775.5 1069.4,777.3 1069.9,779.4 1068.9,780 1068.4,781.9 1068.1,784 1068.4,786.8 1067.8,787.2 1068.1,789.6 1068.7,790.5 1068.3,791.4 1069.1,791.8 1069.2,792.7 1068.4,793.1 1068.6,794.6 1068.1,797.6 1067.3,799.5 1067.5,800.7 1067,802.4 1065.7,803.3 1065.9,806.1 1066.4,806.8 1067.5,806.8 1067.5,808.6 1068.1,810.2 1071.9,810.4 1073.3,811 1071.9,811 1071.3,811.5 1069.9,812.6 1069.5,815 1068.9,815.3 1067,814.2 1065.2,812.3 1063.3,811 1062.7,809.1 1063.2,807.6 1062.4,806.1 1062.2,801.9 1062.9,799.5 1064.6,797.6 1062.2,796.9 1063.7,795 1064.1,791.2 1066,792.1 1066.8,787.4 1065.7,786.8 1065.2,789.6 1064.3,789.2 1064.8,786.1 1065.2,782.1 1066,780.8 1065.6,778.8 1065.4,776.5 1066,776.3 1067,773.1 1068.1,770 1068.9,767.1 1068.4,764.3 1068.9,762.8 1068.7,760.6 1069.7,758.2 1070,754.8 1070.5,751.1 1071,747.3 1070.8,744.5 1070.5,742 1071.3,741.7 1071.8,740.8Z"/>
<path fill="#275f87" d="M1085.1,809.9 1087,808.4 1088.3,808.9 1089.2,807.9 1090.5,809.1 1090,810.7 1088,810.7 1087.2,809.9 1085.9,811 1085.1,809.9Z"/>
<path fill="#aa501a" d="M1077.5,584.7 1072.9,583.3 1069.5,581.2 1067.6,579.4 1065.7,576.5 1063.5,575.8 1063.5,574.6 1058.9,576.5 1057.5,575 1058.6,572.4 1061.6,572.4 1064.8,571.6 1064.3,570.4 1064.9,568.4 1066.8,564.4 1066.5,562.7 1065.9,561 1063.5,558.8 1060.2,557.5 1061.3,556.6 1059.5,553.4 1058.1,553.4 1056.8,551.5 1056,552.9 1053.2,553.8 1047.5,552.6 1044,551 1041.4,550.5 1040.2,548.6 1041.7,546.6 1039.5,546.6 1039,541.5 1040.3,536.7 1041.9,534.4 1046,532.7 1044.8,536.1 1046,539.9 1047.5,535.6 1051.6,532.7 1054.3,538.9 1054.1,542 1057.1,540.5 1058.7,538.9 1062.2,541.5 1064.5,543.6 1064.6,546.1 1067.6,544.6 1069.2,548.1 1073,550.1 1074.5,552 1075.9,556.1 1073,558.4 1076.8,561 1079.2,562.3 1081.6,566 1084,566 1083.5,568.8 1080.8,573.5 1078.9,572 1076.4,568 1074.3,568.4 1074.1,570.8 1075.7,573.1 1078,575 1078.6,575.8 1079.5,579.4 1079.1,581.9 1077,581.2 1073,578.3 1075.3,581.2 1077,583.3 1077.5,584.7ZM999.3,535.6 1000.9,536.7 1000.1,538.9 1003.8,537.2 1005.8,539.9 1007.8,537.4 1009.2,539.4 1010.5,544.1 1011.2,542 1010.1,536.7 1011.6,536.1 1013.2,536.7 1014.9,538.9 1015.9,544.1 1016.3,547.7 1019,550.1 1021.9,552.4 1021.7,554.3 1019.2,554.8 1020.1,556.6 1019.7,557.9 1016.8,557.5 1014,556.1 1012.2,556.6 1009.2,557.9 1002.4,559.2 1001.4,557 999.3,555.7 997.9,556.1 996,552.6 997,552 999.5,551.5 1001.7,551.5 1003.8,550.5 1000.6,549.6 997.3,550.1 995,550.1 997.9,546.1 995.4,546.1 992.7,544.6 993.9,541 995,538.9 999.3,535.6ZM989.3,529.2 991.6,530.4 995.5,530.4 997.1,532.2 998.9,534.4 996.8,536.1 993,539.9 990.9,543.6 990.9,545.6 986.8,548.1 986,546.1 982.3,543.1 983,541 984.1,537.2 985.5,533.3 983.9,529.8 989.3,529.2ZM1028.7,544.1 1026,546.1 1024.6,545.6 1023.5,544.1 1019.5,539.9 1019.5,538.3 1022.8,538.9 1021.1,535 1022.8,532.7 1024.7,533.9 1027.6,532.7 1028.1,534.4 1026.5,537.3 1029,539.4 1028.7,544.1ZM1034.3,538.3 1032.5,542.6 1030.8,542 1029.8,537.8 1029.8,535 1030.6,532.2 1032.2,531 1035.5,531 1038.6,532.2 1036.2,537.4 1034.3,538.3ZM1027.3,556.6 1026,557.3 1023.8,555.2 1025.2,553.8 1026.3,552 1027.9,552.9 1028.9,553.8 1029.4,554.8 1030.5,556.6 1029.4,557.9 1027.3,556.6ZM1047,570.8 1047.3,572.7 1048.1,572 1049,573.1 1050.8,574.3 1052.7,575.4 1052.7,577.3 1054,576.9 1055.1,578.3 1053.7,579.4 1051.3,578.3 1050.3,576.9 1048.7,578.7 1046.5,580.5 1045.9,578.7 1043.8,579.1 1045.1,577.2 1045.4,574.3 1045.9,570.8 1047,570.8ZM1055.6,526.2 1054.4,527.4 1052.2,529.2 1050.2,528 1045.6,529.2 1042.2,529.2 1039.7,528.6 1035.5,526.8 1034.9,523 1034.8,519.8 1033.2,517.1 1029.9,516.5 1028.1,513.7 1028.7,510.8 1031.9,511.5 1033.6,513.7 1036.8,513.7 1038.2,516.5 1037.8,518.5 1039.7,520.5 1040.6,521.8 1042.9,521.8 1045.1,522.4 1047.6,521.1 1050.8,520.5 1053.5,521.1 1055.1,523.7 1055.6,526.2ZM1073.5,453.7 1077.8,455 1081.1,456.3 1084,460.2 1084,462.6 1080.2,468.5 1076.2,470.8 1074.8,472.9 1078.3,472.9 1074.6,479.2 1071.9,482.2 1069.2,489.8 1066,491.6 1064.9,493.4 1060.2,494.2 1062.4,495.1 1061.3,496.8 1062.5,500.9 1061.1,503.3 1058.6,505.6 1057.8,508.6 1055.6,510.8 1055.9,512.4 1058.6,512.3 1058.6,513.7 1054.3,517.8 1050.2,515.8 1045.6,517.1 1043.2,516.5 1040.2,515.8 1040,512.6 1042.9,510.8 1042.1,505.6 1043,504.8 1047.3,508.6 1045.2,503.3 1042.6,501.7 1043.8,498.5 1046.7,496.8 1047.1,494.2 1044.9,490.7 1044.3,485.1 1048.6,486.1 1049.8,487 1052.4,483.2 1048.7,482.2 1043.2,483.2 1040.3,479.2 1039,475.1 1037.1,471.9 1036.8,468.5 1039.2,466.2 1041.1,466.2 1044.1,463.8 1046.5,458.9 1048.4,460.2 1050.2,463.8 1051.4,456.3 1053.5,455 1056.4,453.7 1061.1,452.4 1062.1,453.7 1066.7,452.4 1070,452.4 1073.5,453.7ZM1044.1,491.1 1046,493.9 1043.8,496.4 1040.9,502.6 1038.1,503.1 1034.8,502.2 1033.1,498.9 1033.1,495.9 1034.4,493.5 1031.5,493.6 1029.7,490.6 1028.7,486.5 1029.8,482.2 1030.9,479.1 1032.5,478.4 1031.8,476 1035.5,475.5 1037.6,481.1 1040.2,483.1 1042.8,485 1044.1,491.1ZM995.4,524.3 997.6,517.8 999,515.8 1003.5,518.5 1006.3,522.4 1009,522.4 1006.8,516.5 1008.2,513.7 1010,514.4 1010.5,517.8 1011.1,520.5 1012.5,519.1 1014.1,519.1 1014.4,522.4 1013.5,525.6 1008.1,526.2 1004.1,529.2 1001.7,529.2 1001.4,527.4 1004.7,524.3 997.6,525.6 995.4,524.3ZM1025.9,514.4 1027.1,517.1 1027.1,521.1 1026.3,525.6 1023.8,526.2 1022,524.9 1022,521.8 1019.5,521.8 1019.3,517.1 1023,515.1 1023.5,515.1 1025.7,515.1 1025.9,514.4ZM1023.3,502.5 1024,505.6 1021.4,504.8 1018.9,502.5 1015.2,501.7 1016.8,499.3 1014.9,497.6 1014.7,494.2 1017.9,495.1 1022.2,498.5 1023.3,502.5ZM997.7,507.9 997.6,513 996.3,515.8 994.9,515.8 991.9,518.5 989.3,519.8 987.1,518.5 987.1,518.5 989.8,513 993.1,508.6 995.5,508.6 997.7,507.9ZM1007.3,507.1 1004.3,509.4 1002,507.1 1003.3,504.1 1005.5,503.3 1007.8,504.9 1007.3,507.1ZM1094,615.8 1093.2,617.4 1092.1,619.6 1093.2,618.6 1094.2,619.4 1093.7,620.1 1095.1,620.9 1095.7,620.1 1097.3,621.1 1096.9,622.8 1098,622.3 1098.2,623.5 1098.8,625.2 1098,627.1 1097.3,627.3 1096.2,626.9 1096.6,625 1096.2,624.5 1094.3,626.6 1093.4,626.6 1094.5,625.4 1092.9,625 1091.3,625 1088.1,625 1088,624.3 1088.9,623.3 1088.3,622.8 1089.5,621.3 1091.1,617.4 1092.2,615.8 1093.5,615.1 1094.3,615.1 1094,615.8ZM986.2,622.8 985.4,623 982.7,622.1 982.3,621.1 980.8,620.4 980.6,619.6 978.8,619.1 978.4,617.9 978.4,617.1 980.1,617.6 981.1,618.1 982.5,618.4 983.9,620.4 985.5,621.3 986.2,622.8ZM971.5,608.7 973.1,608.4 972.7,611.4 973.9,613.5 973.3,613.5 972.3,612.4 971.9,611.1 970.9,610.3 970.7,608.9 970.7,608.1 971.5,608.7ZM1079.9,619.4 1080.3,619.2 1082.4,619.9 1084.1,620.9 1084.1,621.3 1083.4,621.3 1081.3,620.6 1079.9,619.4ZM1080.7,626.4 1081.1,627.3 1082.4,627.8 1083.8,627.8 1083,628.7 1082.4,628.8 1080.5,627.8 1080,627.1 1080.7,626.4ZM939,597.3 939.9,597.5 940.7,598.4 939.3,599.9 937.7,601 936.9,600.2 936.6,598.7 938,597.8 939,597.3ZM909.6,578 910.6,578.7 911.5,578.3 912.8,579.4 914.4,579.8 914.2,580.1 913.1,580.9 911.8,580.1 911.2,579.4 909.8,579.8 909.4,579.4 909.6,578ZM919.3,591.3 918.3,591.6 917.4,591.3 916.3,590.3 917.9,589.6 919.1,590 919.3,591.3Z"/>
<path fill="#08978c" d="M1231.2,554.3 1234.7,555.2 1239.5,556.6 1246.3,561.8 1247.6,563.5 1247.6,566.4 1245.8,568.4 1243.3,569.6 1236.1,566.4 1235,567.2 1237.6,570 1237.7,572 1237.7,575.8 1239.8,576.9 1241.1,578 1241.2,576.1 1240.3,574.3 1241.4,573.1 1245.2,575.4 1246.5,574.3 1245.5,571.6 1249.2,567.6 1250.6,568 1252,569.2 1253,566.4 1251.7,563.9 1252.5,561.6 1251.4,558.8 1255.8,560.1 1256.6,562.7 1254.7,563.1 1254.7,565.6 1255.8,566.8 1258.4,566 1258.7,563.5 1262,561.4 1267.6,557.5 1268.9,557.9 1267.3,560.5 1269.2,561 1270.3,559.7 1273.3,559.2 1275.7,557.5 1277.4,560.1 1279.3,557.5 1277.6,554.8 1278.5,552.9 1283.2,554.8 1285.4,556.1 1291.1,561 1292.2,558.8 1290.6,556.6 1290.5,555.2 1288.6,554.8 1289.2,552.9 1288.2,549.1 1288.2,547.6 1291.1,543.1 1292.2,538.3 1293.3,537.2 1297.6,538.3 1297.9,541.5 1296.3,545.6 1297.4,547.1 1297.9,550.5 1297.6,557 1299.4,559.7 1298.6,562.7 1295.5,568.4 1297.3,568.8 1297.9,567.6 1299.7,566.4 1300.1,564.4 1301.6,562.3 1300.6,560.1 1301.3,557.1 1299.5,556.6 1299.2,554.3 1300.5,549.6 1298.4,545.6 1301.3,542 1300.9,538.3 1301.7,537.8 1302.5,541 1301.9,546.1 1303.6,546.6 1302.8,543.1 1305.5,541 1308.9,541 1311.7,543.6 1310.3,539.4 1310.2,533.9 1313,532.2 1316.8,532.7 1320.2,532.2 1318.9,528.6 1320.8,524.9 1322.5,524.9 1325.7,521.8 1329.8,520.5 1330.3,519.1 1334.6,518.5 1335.9,519.8 1339.4,516.5 1342.4,516.5 1342.7,513 1344.3,510.1 1348.1,507.1 1350.8,509.4 1348.6,511.5 1352.2,512.5 1352.6,515.8 1354.1,514.4 1358.8,514.4 1362.2,517.8 1363.5,520.5 1363.2,523.7 1361.5,525.6 1357.3,528.6 1356.1,530.4 1358,531.6 1360.3,532.7 1361.8,531.7 1362.6,535.6 1363.3,533.9 1365.9,532.7 1371,533.9 1371.3,536.7 1378,537.4 1378.1,533.3 1381.5,533.9 1384,533.9 1386.5,537.2 1387.3,540.5 1386.4,542.7 1388.3,546.6 1390.8,548.6 1392.4,543.6 1395,545.6 1397.7,544.1 1400.7,546.1 1401.8,544.6 1404.5,545.1 1403.2,540.5 1405.4,538.3 1419.7,541.5 1421.2,544.6 1425.3,548.6 1431.7,547.6 1434.8,548.1 1436.1,550.1 1435.9,553.8 1437.8,555.2 1440.1,554.3 1442.9,553.8 1445.8,554.8 1448.8,554.3 1451.7,558.4 1453.6,557 1452.3,553.8 1453.1,552 1458,553.4 1461.4,552.9 1466,555.2 1468.2,557.2 1468.2,573.6 1466.1,575.4 1464.1,575 1465.5,576.9 1466.4,579.8 1467.2,580.9 1467.4,582.2 1466.9,583.3 1464.1,582.6 1459.6,585 1458.2,585.3 1455.8,587.8 1453.4,590 1452.8,591.3 1450.6,589 1446.4,591.6 1445.6,590.3 1444.2,591.9 1442,591.3 1441.5,593.5 1439.6,596.6 1439.8,597.8 1441.5,598.4 1441.3,602.5 1439.8,602.8 1439.1,605.1 1439.8,606.2 1437.1,607.9 1436.4,610.8 1434,611.5 1433.6,614.3 1431.3,616.6 1430.7,614.8 1430.1,610.8 1429.1,604.8 1429.9,600.8 1431.3,599 1431.3,597.8 1433.9,596.9 1436.7,593.2 1439.4,590 1442.3,587.3 1443.6,582.2 1441.7,582.6 1440.7,585.7 1436.6,589.3 1435.3,585 1431.2,586.3 1427.2,591.6 1428.5,593.8 1425,594.4 1422.6,594.7 1422.6,592.5 1420.2,591.9 1418.2,593.5 1413.4,593.2 1408.1,594.1 1403,599.9 1396.9,606.7 1399.4,607 1400.2,608.7 1401.8,609.2 1402.7,607.9 1404.5,608.1 1406.7,611.1 1406.9,613.5 1405.6,616.1 1405.4,619.1 1404.8,623 1402.4,626.4 1401.8,628 1396.6,634.6 1394.3,635.9 1393.4,635.9 1392.4,634.8 1390.2,636.4 1390,637.2 1389.7,636.8 1389.7,635.7 1390.5,635.7 1390.8,633 1390.4,631.1 1391.8,630.3 1393.7,630.8 1394.8,628.5 1395.3,625.9 1395.9,625 1396.7,622.8 1394.2,623.5 1392.7,624.5 1390.4,624.5 1389.7,622.3 1387.8,620.6 1385.1,619.6 1384.5,617.4 1383.8,615.6 1383.4,614.5 1382.3,611.9 1381,610.8 1378.6,610 1376.4,610.3 1374.5,610.6 1373.2,611.9 1374,612.7 1374,614.1 1373.2,615.1 1371.8,617.6 1371.8,618.9 1369.6,620.4 1367.6,619.4 1365.7,619.6 1364.9,618.9 1364,618.6 1361.6,620.4 1359.5,620.6 1358.1,621.3 1356.1,620.9 1354.6,620.9 1353.7,619.6 1352.1,618.4 1350.5,618.1 1348.4,618.4 1347,618.9 1344.8,617.9 1344.5,615.8 1342.6,615.3 1341.1,615.1 1339.4,614 1337.6,616.6 1338.3,618.1 1336.8,619.9 1334.5,619.2 1332.9,619.1 1331.8,617.9 1330.2,617.9 1328.7,617.1 1326.4,618.4 1323.3,620.4 1321.7,620.9 1321.1,621.1 1320.2,619.6 1318.1,619.9 1317.5,618.9 1316.3,618.4 1315.6,616.8 1314.8,616.3 1312.4,617.1 1310.3,615.6 1309.4,616.8 1305.9,610.3 1304.4,607.3 1303.8,608.1 1300.5,610 1298.9,610 1299,608.7 1297,607.6 1295.4,608.4 1294.9,605.3 1292,604.8 1290.6,606 1286.6,607 1285.9,607.6 1279.8,608.7 1279.2,609.5 1280.3,611.4 1278.7,612.2 1279,613 1277.5,614.1 1280.1,615.8 1279.7,617.1 1277.4,617.1 1277,617.9 1275.1,616.3 1272.5,616.6 1270.8,617.6 1268.9,616.6 1265.4,614.8 1263,614.8 1259.6,617.6 1259.5,619.4 1257.7,617.9 1256.6,620.6 1256.9,621.1 1256.2,623 1257.4,624.7 1258.7,624.7 1259.6,626.2 1259.5,627.3 1260.3,627.8 1259.5,629.2 1258.1,629.6 1256.5,631.9 1257.9,633.9 1257.7,635.5 1259.5,638.1 1258.5,638.9 1258.2,639.4 1257.6,639.4 1256.5,638.1 1256,637.9 1255,637.4 1254.6,636.6 1253,636.1 1252,636.4 1251.9,636.4 1249.6,635 1247.3,634.6 1246.3,635.3 1245.8,634.6 1243.8,632.6 1241.9,631.7 1240.6,630.6 1241.7,630.1 1243,628.3 1242.2,627.3 1244.4,626.4 1244.4,625.7 1243,626.2 1243.1,625.2 1245.4,624.3 1245.7,623.5 1245.4,622.1 1246,620.9 1246,620.1 1243.6,619.4 1242.7,619.4 1241.7,618.1 1240.4,618.6 1238.5,617.6 1238.5,617.1 1237.9,616.1 1236.6,615.8 1236.5,615.1 1236.9,614.5 1236,613.2 1234.2,613.5 1233.8,613.2 1233.4,613.8 1232.8,613.8 1232.3,612.2 1232,611.1 1232.3,610.8 1233.6,611.1 1234.2,610.3 1233.8,609.8 1232.6,609.2 1232.8,608.8 1232.2,608.1 1231.2,606.5 1231.5,605.6 1231.4,604.2 1229.8,603.6 1229,603.9 1228.7,603.4 1227.1,602.5 1226.6,602.5 1226.5,599.6 1225.7,598.7 1226.3,597.8 1225.8,595 1226.9,593.2 1226.7,592.5 1228.5,590.9 1226.9,589.3 1230.3,585 1231.7,582.9 1232.3,581.2 1229.9,578.7 1230.6,576.5 1229.2,573.9 1230.3,570.4 1228.5,566 1229.9,562.7 1227.4,559.7 1227.7,556.6 1229,556.1 1231.7,554.3 1231.2,554.3ZM896.4,557.2 900.2,560.5 904.5,564.8 904.4,567.2 905.5,568.4 905,565.2 909.3,566 912.5,569.7 910.9,571.6 908.3,572 908.2,575.4 907.6,576.1 906.1,576.1 904.8,575 902.8,573.9 902.5,572 900.9,571.6 899,572 898.2,570.8 896.4,569.7 896.4,573.6 896.4,557.2ZM896.4,545.1 896.6,544.6 898,544.6 900.2,546.1 900.1,547.1 898.5,548.1 896.4,548.6 896.4,545.1ZM1468.2,548.6 1466.4,548.6 1466.1,547.1 1468.2,545.1 1468.2,548.6ZM1213.6,607.6 1218.4,607.9 1218.5,606.2 1217.7,605.9 1216.1,605.3 1213.9,606.2 1213.6,607.6ZM1267.3,533.3 1271.1,528 1270.6,524.9 1274.3,521.8 1279.5,517.1 1284.7,516.5 1287.4,513.7 1290.6,513 1291.7,515.8 1290.6,517.8 1284.9,521.1 1280.1,523.7 1275.2,529.8 1272.8,535.6 1270.3,540.5 1270.6,545.1 1273.6,549.1 1272.7,549.6 1267.6,548.6 1267.1,546.6 1264.3,545.1 1264.1,542.6 1265.7,541.5 1265.5,538.3 1268.7,533.9 1267.3,533.3ZM1334.6,475.1 1337.8,481.3 1341.4,489.8 1341,497.6 1337.6,498.5 1333.2,496.8 1330.5,493.4 1329.2,487 1327.1,485.1 1331.3,478.2 1334.6,475.1ZM1340.2,505.6 1343.2,495.1 1345.6,494.2 1349.7,499.3 1349.2,502.5 1340.2,505.6ZM1344.5,494.2 1345.6,494.2 1346.4,491.6 1341.1,489.8 1341.4,489.8 1344.5,494.2ZM1402.7,518.5 1407,518.5 1412.8,521.8 1411.5,526.8 1405.6,526.8 1403,528 1399.8,523.7 1400.7,519.8 1402.7,518.5ZM1414.8,522.4 1417.7,523.7 1421.6,524.9 1419.9,527.4 1417.3,526.8 1414.3,524.3 1414.8,522.4ZM1404.5,535 1405.9,532.7 1408,532.2 1410.2,534.4 1410.4,536.1 1408,536.1 1404.7,535.6 1404.5,535ZM1253.5,482.2 1256.6,480.3 1259,480.3 1259.3,483.2 1260.3,480.3 1261.7,479.2 1264.1,481.3 1263.5,483.2 1261.4,484.2 1260,485.1 1259.8,486.1 1257.9,488 1256.2,486.1 1257.1,482.2 1253.5,482.2ZM1410.4,617.4 1412.1,621.6 1409.7,620.9 1408.8,624.3 1410.2,626.9 1410.2,628.5 1408.9,627.1 1408,628.8 1407.7,626.9 1407.8,624.5 1407.7,621.8 1408,620.1 1408.1,616.7 1407.2,614.3 1407.4,610.6 1408.8,609.2 1408.1,608.1 1408.9,607.6 1409.3,609.5 1409.9,612.2 1409.7,614.5 1410.4,617.4ZM1206.3,490.7 1206.9,488 1209.3,487 1211.4,490.7 1216.4,497.1 1212.5,500.1 1211.7,506.4 1210.3,507.9 1209.5,513.7 1207.6,513.7 1204.2,509.4 1205.6,507.1 1203.3,504.8 1200.1,497.6 1198.8,490.7 1203.3,488 1204.1,490.7 1206.3,490.7ZM1221.5,505.6 1218,509.4 1215.2,507.1 1216.3,505.6 1215.3,502.5 1218.7,500.9 1219.3,504.1 1221.5,505.6ZM1232.3,487 1225.8,487 1223.4,492.5 1218.8,493.4 1214.2,491.6 1213.9,489.8 1211.7,488.9 1209.9,485.1 1214.9,482.2 1217.1,484.2 1218.7,481.3 1222.6,484.2 1223.6,484.2 1232.3,487ZM1227.1,546.6 1232,550.1 1229.9,551.5 1231.7,554.3 1229,556.1 1227.7,556.6 1228.4,553.4 1226.3,551.5 1223.9,553.4 1223.1,556.6 1221.5,558.8 1219.9,557.5 1217.9,557.9 1216,555.2 1215,556.6 1214.1,556.6 1213.9,559.7 1210.9,558.8 1210.4,561.4 1209,561.4 1207.9,564.4 1206.3,568.8 1203.9,574.3 1204.4,575.8 1203.9,577.2 1202.3,576.9 1201.2,580.5 1201.3,585 1202.3,586.7 1201.8,590.6 1200.6,592.8 1199.8,594.4 1198.8,592.5 1195.6,596.3 1193.4,596.9 1191.4,595.3 1190.7,591.9 1190.2,584.4 1191.7,582.2 1196,579.1 1199,575.4 1202,570 1205.8,562.3 1208.3,558.8 1212.8,553.4 1216.3,551 1218.8,551.5 1221.2,547.6 1224.2,547.7 1227.1,546.6Z"/>
<path fill="url(#dt)" d="M1217.6,570.8 1216,573.5 1216.3,575.8 1213.7,578.7 1210.6,581.9 1209.5,586.7 1210.6,589 1212.2,590.6 1210.7,594.3 1209,595 1208.3,600.2 1207.6,602.8 1205.6,602.5 1204.7,604.8 1202.8,604.8 1202.3,602.2 1201,599 1199.8,594.4 1200.6,592.8 1201.8,590.6 1202.3,586.7 1201.3,585 1201.2,580.5 1202.3,576.9 1203.9,577.2 1204.4,575.8 1203.9,574.3 1206.3,568.8 1207.9,564.4 1209,561.4 1210.4,561.4 1210.9,558.8 1213.9,559.7 1214.1,556.6 1215,556.6 1217.2,558.8 1219.6,561.8 1219.8,568 1220.3,569.6 1217.6,570.8Z"/>
<path fill="#08978c" d="M1227.7,556.6 1227.4,559.7 1229.9,562.7 1228.5,566 1230.3,570.4 1229.2,573.9 1230.6,576.5 1229.9,578.7 1232.3,581.2 1231.7,582.9 1230.3,585 1226.9,589.3 1224.1,589.6 1221.2,590.6 1218.7,591.6 1217.7,589.6 1216.1,588.7 1216.4,585.3 1215.8,582.2 1216.4,580.1 1217.9,578 1221.5,573.9 1222.6,573.1 1222.5,571.6 1220.3,569.6 1219.8,568 1219.6,561.8 1217.2,558.8 1215,556.6 1216,555.2 1217.9,557.9 1219.9,557.5 1221.5,558.8 1223.1,556.6 1223.9,553.4 1226.3,551.5 1228.4,553.4 1227.7,556.6ZM1198,606 1197.1,606.5 1195.8,606 1195.2,604.5 1195.2,601.6 1195.5,600.8 1195.8,599.9 1197.2,599.6 1197.9,599 1199.1,598.1 1199,599.6 1198.7,600.5 1198.7,601.3 1199.6,601.6 1199.3,602.8 1198.8,602.5 1197.5,604.5 1198,606ZM1202,602.8 1202.5,604.2 1201.5,606.5 1199.8,604.8 1199.6,603.6 1202,602.8Z"/>
<path fill="#c05a1a" d="M1177.5,595.3 1175.8,598.4 1177.4,598.1 1179.2,598.1 1178.8,600.5 1177.4,603.2 1179,603.4 1179.1,603.6 1180.6,607 1181.7,607.3 1182.6,610.6 1183.1,611.6 1185,612.2 1184.8,613.8 1184,614.5 1184.5,615.8 1183.3,617.1 1181,617.1 1178.3,617.9 1177.6,617.4 1176.6,618.6 1175.2,618.4 1174,619.2 1173.1,618.6 1175.5,616.1 1176.9,615.6 1174.4,615.1 1173.9,614 1175.6,613.2 1174.7,611.9 1175,610 1177.4,610.3 1177.7,608.7 1176.6,607 1174.7,606.5 1174.2,605.6 1174.8,604.5 1174.4,603.6 1173.4,605.1 1173.4,602.2 1172.6,600.8 1173.1,597.8 1174.4,595.3 1175.6,595.3 1177.5,595.3ZM1173.2,607 1172.5,608.9 1171.3,608.4 1170.2,608.4 1170.5,607 1170.2,605.6 1171.7,605.3 1173.2,607Z"/>
<path fill="url(#hx)" d="M1172.5,608.9 1172.8,610.8 1171.5,613.2 1168.6,614.8 1166.4,614.5 1167.7,611.6 1166.9,608.9 1169.1,606.7 1170.2,605.6 1170.5,607 1170.2,608.4 1171.3,608.4 1172.5,608.9Z"/>
<path fill="url(#dt)" d="M1175,622.3 1177.1,621.8 1179.8,622.6 1179.3,619.6 1180.7,620.9 1184.4,618.9 1184.8,616.8 1186.3,616.3 1186.6,617.1 1187.2,617.1 1188,618.1 1189.1,619.4 1189.9,619.1 1191.4,620.4 1191.7,620.6 1192.1,620.4 1192.9,621.1 1195.2,621.6 1194.4,623.3 1194.2,625 1193.7,625.4 1192.9,625.2 1193.1,625.7 1191.8,627.1 1191.8,628 1192.6,627.8 1193.1,628.7 1193.1,629.4 1193.6,630.3 1192.9,631 1193.4,632.6 1194.2,633 1194.1,633.9 1192.6,635.3 1189.6,634.6 1187.2,635.3 1187,636.6 1185.2,637 1183.4,635.9 1182.8,636.4 1179.9,635.5 1179.3,634.6 1180.1,633.3 1180.4,628.7 1178.8,626.2 1177.6,625 1175.2,624.1 1175,622.3ZM1196.1,636.4 1197.2,635.5 1197.5,637.2 1196.9,638.9 1196.3,638.5 1195.8,637 1196.1,636.4Z"/>
<path fill="#08978c" d="M1168,637.9 1168,636.4 1167.4,635.5 1169.6,633.9 1171.5,634.2 1173.7,634.2 1175.5,634.6 1176.7,634.4 1179.3,634.6 1179.9,635.5 1182.8,636.4 1183.4,635.9 1185.2,637 1187,636.6 1187.1,637.9 1185.6,639.4 1183.6,639.8 1183.4,640.4 1182.5,641.7 1181.8,643.4 1182.5,644.6 1181.5,645.4 1181.2,646.9 1180.1,647.3 1179,648.7 1176.9,648.7 1175.3,648.7 1174.4,649.5 1173.7,650.3 1172.9,650.1 1172.5,649.3 1172,648.3 1170.4,647.9 1170.9,646.5 1171.2,645.8 1170.5,645.2 1171,644 1170.4,642.7 1171,642.5 1171.2,641.5 1171.3,641.3 1171.3,639.6 1172.1,638.9 1171.7,637.9 1170.7,637.9 1170.5,638.1 1169.6,638.1 1169.1,637 1168.5,637.4 1168,637.9ZM1168,637.9 1168.5,637.4 1169.1,637 1169.6,638.1 1170.5,638.1 1170.7,637.9 1171.7,637.9 1172.1,638.9 1171.3,639.6 1171.3,641.3 1171.2,641.5 1171,642.5 1170.4,642.7 1171,644 1170.5,645.2 1171.2,645.8 1170.9,646.5 1170.4,647.9 1169.8,648.5 1169,648.1 1168.2,648.3 1168.5,646.7 1168.3,645.4 1167.5,645.2 1167.2,644.6 1167.4,643.2 1168,642.3 1168,641.5 1168.3,640.2 1168.3,639.4 1168,638.7 1168,637.9Z"/>
<path fill="url(#dt)" d="M1198,606 1198,607 1199.7,607.6 1199.6,608.7 1201.3,608.1 1202.2,607.3 1203.9,608.4 1204.7,609.2 1205.2,610.8 1204.7,611.4 1205.2,612.4 1205.6,613.8 1205.5,614.8 1206.1,616.3 1205.5,616.6 1205,616.3 1204.7,616.8 1203.4,617.4 1202.9,617.9 1201.7,618.4 1202,619.2 1202.2,620.4 1202.9,620.9 1203.9,621.8 1203.3,623 1202.8,623.3 1202.9,625 1202.8,625.2 1202.3,624.7 1201.5,624.7 1200.4,625.2 1199,625 1198.8,625.7 1198,625 1197.5,625.2 1195.8,624.5 1195.5,625 1194.2,625 1194.4,623.3 1195.2,621.6 1192.9,621.1 1192.1,620.4 1192.1,619.4 1191.8,618.9 1192.1,617.1 1191.8,614.3 1192.8,614.3 1193.1,613.5 1193.6,611.1 1193.3,610 1193.6,609.5 1194.8,609.5 1195.2,610 1196.3,608.7 1196,607.6 1195.8,606 1197.1,606.5 1198,606ZM1192,610 1193.3,610 1193.6,611.1 1193.1,613.5 1192.8,614.3 1191.8,614.3 1192.1,617.1 1191.2,616.6 1190.2,615.3 1188.7,615.8 1187.5,615.8 1188.3,615.1 1189.8,611.1 1192,610Z"/>
<path fill="#08978c" d="M1187.5,615.8 1188.7,615.8 1190.2,615.3 1191.2,616.6 1192.1,617.1 1191.8,618.9 1192.1,619.4 1192.1,620.4 1191.7,620.6 1191.4,620.4 1189.9,619.1 1189.1,619.4 1188,618.1 1187.2,617.1 1186.6,617.1 1186.3,616.3 1187.5,615.8ZM1197.5,625.2 1197.5,625.7 1197.4,626.2 1198,626.6 1198.8,626.6 1198.8,627.6 1198,628 1196.9,627.8 1196.5,628.7 1195.8,628.7 1195.5,628.3 1194.7,629.2 1193.9,629.2 1193.1,628.7 1192.6,627.8 1191.8,628 1191.8,627.1 1193.1,625.7 1192.9,625.2 1193.7,625.4 1194.2,625 1195.5,625 1195.8,624.5 1197.5,625.2ZM1209.3,623.8 1209.1,624.7 1208.2,624.7 1208.5,625.2 1208,626.6 1207.7,627.1 1206.3,627.1 1205.5,627.8 1204.2,627.6 1202,626.9 1201.7,626.2 1200.1,626.6 1199.8,626.9 1198.8,626.6 1198,626.6 1197.4,626.2 1197.5,625.7 1197.5,625.2 1198,625 1198.8,625.7 1199,625 1200.4,625.2 1201.5,624.7 1202.3,624.7 1202.8,625.2 1202.9,625 1202.8,623.3 1203.3,623 1203.9,621.8 1205,622.6 1206,621.7 1206.6,621.6 1207.7,622.3 1208.5,622.1 1209.2,622.6 1209.1,622.8 1209.3,623.8ZM1206.9,645.6 1206.4,647.3 1206.6,647.9 1206.3,648.9 1205,648.1 1204.2,647.9 1202,646.9 1202.3,645.8 1204.1,646 1205.8,645.8 1206.9,645.6ZM1196.9,639.4 1197.9,640.9 1197.7,643.6 1196.9,643.6 1196.3,644.2 1195.6,643.6 1195.6,641.1 1195.3,639.9 1196.1,640 1196.9,639.4ZM1202,626.9 1204.2,627.6 1204.1,628.7 1204.4,629.6 1203.1,629.4 1201.8,630.1 1202,631.2 1201.8,631.9 1202.3,633 1203.7,634.2 1204.5,635.9 1206.3,637.7 1207.6,637.7 1208,638.3 1207.6,638.7 1209,639.4 1210.1,640 1211.5,641.1 1211.7,641.5 1211.4,642.3 1210.4,641.3 1209.1,641.1 1208.3,642.3 1209.6,643.2 1209.5,644.2 1208.7,644.4 1207.9,646.1 1207.2,646.2 1207.2,645.6 1207.6,644.4 1207.9,644.1 1207.2,643 1206.8,641.9 1206.1,641.5 1205.6,640.6 1204.7,640.2 1203.9,639.4 1202.8,639.2 1201.5,638.3 1200.1,636.8 1199,635.7 1198.5,633.5 1197.7,633.3 1196.4,632.4 1195.6,632.8 1194.8,633.7 1194.1,633.9 1194.2,633 1193.4,632.6 1192.9,631 1193.6,630.3 1193.1,629.4 1193.1,628.7 1193.9,629.2 1194.7,629.2 1195.5,628.3 1195.8,628.7 1196.5,628.7 1196.9,627.8 1198,628 1198.8,627.6 1198.8,626.6 1199.8,626.9 1200.1,626.6 1201.7,626.2 1202,626.9ZM1206.1,616.3 1205.5,614.8 1205.6,613.8 1205.2,612.4 1204.7,611.4 1205.2,610.8 1204.7,609.2 1205.8,608.4 1208.3,607.3 1210.3,606.2 1211.8,606.7 1212,607.6 1213.6,607.6 1215.5,607.9 1218.4,607.9 1219.1,608.1 1219.6,608.9 1219.6,610 1220.1,611.1 1220.1,612.2 1219.1,612.7 1219.6,614 1219.6,615.1 1220.4,617.4 1220.3,618.1 1219.5,618.4 1218,620.4 1218.5,621.6 1218.2,621.3 1216.6,620.4 1215.5,620.9 1214.7,620.6 1213.7,621.1 1213,620.1 1212.3,620.4 1212.3,620.6 1211.5,620.9 1211.2,620.9 1211,621.6 1210.7,621.6 1210.7,621.6 1210.3,619.1 1209.1,617.9 1208.8,618.6 1208,618.1 1208,617.4 1206.9,617.1 1206.1,616.3ZM1209.2,622.6 1208.5,622.1 1207.7,622.3 1206.6,621.6 1206,621.7 1205,622.6 1203.9,621.8 1202.9,620.9 1202.2,620.4 1202,619.2 1201.7,618.4 1202.9,617.9 1203.4,617.4 1204.7,616.8 1205,616.3 1205.5,616.6 1206.1,616.3 1206.9,617.1 1208,617.4 1208,618.1 1208.8,618.6 1209.1,617.9 1210.3,619.1 1210.3,619.1 1211.5,620.9 1211.2,620.9 1211,621.6 1210.7,621.6 1210.7,621.6 1210.1,622.1 1209.5,622.1 1209.2,622.6ZM1212.3,620.4 1212.3,620.6 1211.5,620.9 1210.3,619.1 1210.7,621.6 1211,621.6 1211.2,620.9 1211.5,620.9 1210.7,621.6 1210.1,622.1 1209.5,622.1 1209.2,622.6 1209.1,622.8 1209.3,623.8 1210.1,624.3 1210.7,624.5 1212,624.3 1212.2,623.8 1213.6,623.5 1214.4,623.3 1214.9,622.6 1217.1,623.3 1217.4,623 1218.2,621.3 1218.5,621.6 1216.6,620.4 1215.5,620.9 1214.7,620.6 1213.7,621.1 1213,620.1 1212.3,620.4ZM1208,626.6 1208.5,625.2 1208.2,624.7 1209.1,624.7 1209.3,623.8 1210.1,624.3 1210.7,624.5 1212,624.3 1212.2,623.8 1213.6,623.5 1214.4,623.3 1214.9,622.6 1217.1,623.3 1217.4,623 1218.2,623.5 1218.4,624.3 1217.4,624.7 1216.6,626.4 1215.7,628 1214.4,628.5 1213.4,628.3 1212.2,629 1211.7,629.2 1210.3,628.8 1209.1,627.8 1208.7,627.6 1208.3,626.9 1208,626.6ZM1204.2,627.6 1205.5,627.8 1206.3,627.1 1207.7,627.1 1208,626.6 1208.3,626.9 1208.7,627.6 1207.4,628.3 1207.2,629.2 1206.6,629.4 1206.6,629.9 1206,629.9 1205.5,629.6 1205.2,629.9 1204.1,629.9 1204.4,629.6 1204.1,628.7 1204.2,627.6Z"/>
<path fill="#275f87" d="M1212.2,629 1212.6,629.9 1213.1,630.6 1212.5,631.2 1211.8,630.8 1210.7,630.8 1209.3,630.6 1208.5,630.6 1208.2,631 1207.6,630.6 1207.4,631.5 1208,632.4 1208.5,633.3 1209.1,633.9 1209.8,634.6 1210.4,635.5 1211.8,636.1 1211.7,636.6 1210.1,635.9 1209.1,635 1207.7,634.4 1206.4,632.8 1206.8,632.6 1206,631.7 1206,630.8 1205,630.6 1204.5,631.5 1204.1,630.8 1204.1,629.9 1205.2,629.9 1205.5,629.6 1206,629.9 1206.6,629.9 1206.6,629.4 1207.2,629.2 1207.4,628.3 1208.7,627.6 1209.1,627.8 1210.3,628.8 1211.7,629.2 1212.2,629Z"/>
<path fill="#08978c" d="M1212.5,631.2 1213.1,631.2 1212.6,632.4 1213.4,633.3 1213.3,634.6 1212.8,634.4 1212.5,634.6 1212,635 1211.8,636.1 1210.4,635.5 1209.8,634.6 1209.1,633.9 1208.5,633.3 1208,632.4 1207.4,631.5 1207.6,630.6 1208.2,631 1208.5,630.6 1209.3,630.6 1210.7,630.8 1211.8,630.8 1212.5,631.2Z"/>
<path fill="url(#dt)" d="M1215.5,630.1 1216.4,630.6 1216.6,631.5 1217.4,632.1 1218,632.4 1218.4,631.9 1218,632.4 1218.4,632.8 1217.9,633.3 1218,634.2 1218.8,635 1218.2,635.7 1217.9,636.4 1218,636.6 1217.9,637 1217.1,637 1216.6,637.2 1216.3,637.2 1215.3,637.4 1215.2,638.1 1215,637.9 1214.9,637.2 1214.5,637 1214.2,636.4 1213.7,636.6 1213.6,636.1 1213,637.2 1213.1,637.9 1212.8,637.7 1212.3,637 1211.7,636.6 1211.8,636.1 1212,635 1212.5,634.6 1212.8,634.4 1213.3,634.6 1213.4,633.3 1212.6,632.4 1213.1,631.2 1212.5,631.2 1213.1,630.6 1212.6,629.9 1212.2,629 1213.4,628.3 1214.4,628.5 1215.3,629.4 1215.5,630.1ZM1218.4,624.3 1218.2,623.5 1219,623.8 1220.1,624 1221.1,624.1 1221.8,624.7 1222.3,624.3 1223.4,624 1223.9,623.5 1224.5,623.5 1225,623.8 1225.5,624.5 1226,625.2 1226.9,626.9 1227.1,627.8 1226.9,629 1227.1,629.9 1227.9,630.3 1228.5,629.9 1229.3,630.3 1229.3,631 1228.5,631.5 1228,631.2 1227.7,633.9 1226.7,633.7 1225.5,632.8 1223.8,633.5 1223,633.9 1220.6,633.9 1219.3,633.5 1218.7,633.7 1218.4,632.8 1218,632.4 1218.4,631.9 1218,632.4 1217.4,632.1 1216.6,631.5 1216.4,630.6 1215.5,630.1 1215.3,629.4 1214.4,628.5 1215.7,628 1216.6,626.4 1217.4,624.7 1218.4,624.3Z"/>
<path fill="url(#hx)" d="M1218.4,632.8 1218.7,633.7 1219.3,633.5 1220.6,633.9 1223,633.9 1223.8,633.5 1225.5,632.8 1226.7,633.7 1227.7,633.9 1226.8,634.8 1226.3,636.4 1226.8,637.7 1225.3,637.4 1223.8,638.1 1223.8,639.2 1222.3,639.4 1221.2,638.5 1219.9,639.2 1218.8,639.2 1218.7,637.7 1217.9,637 1218,636.6 1217.9,636.4 1218.2,635.7 1218.8,635 1218,634.2 1217.9,633.3 1218.4,632.8Z"/>
<path fill="#275f87" d="M1215,637.9 1215.2,638.1 1214.9,638.7 1215,639.6 1215.7,640.2 1215.7,640.6 1215.2,641.1 1215,641.7 1214.4,642.7 1214,642.5 1214,642.1 1213.1,641.3 1213,640.4 1213.1,638.9 1213.3,638.3 1213.1,637.9 1213,637.2 1213.6,636.1 1213.7,636.6 1214.2,636.4 1214.5,637 1214.9,637.2 1215,637.9Z"/>
<path fill="#08978c" d="M1215,637.9 1215.3,637.4 1216.3,637.2 1216.6,637.2 1217.1,637 1217.9,637 1218.7,637.7 1218.8,639.2 1218.5,639.2 1218.2,639.6 1217.4,639.6 1216.8,640 1215.7,640.2 1215,639.6 1214.9,638.7 1215.2,638.1 1215,637.9ZM1219.9,650.7 1220.7,651.3 1222,651.3 1223.3,651.3 1224.1,651.4 1223.9,652 1221.5,652.2 1221.5,651.8 1219.6,651.4 1219.9,650.7ZM1224.5,638.5 1224.1,640 1223.8,640.2 1222.6,640 1221.8,640 1219.9,640.4 1221.1,641.7 1220.3,642 1219.3,642 1218.5,640.9 1218.2,641.3 1218.5,642.5 1219.5,643.6 1218.8,644.1 1219.6,645 1220.4,645.6 1220.4,646.7 1219,646.2 1219.5,647.3 1218.5,647.5 1219.1,649.3 1218,649.3 1216.8,648.5 1216.1,646.9 1215.8,645.4 1215.2,644.4 1214.4,643.4 1214.4,642.7 1215,641.7 1215.2,641.1 1215.7,640.6 1215.7,640.2 1216.8,640 1217.4,639.6 1218.2,639.6 1218.5,639.2 1218.8,639.2 1219.9,639.2 1221.2,638.5 1222.3,639.4 1223.8,639.2 1223.8,638.1 1224.5,638.5ZM1219.6,608.9 1221.2,608.9 1222.8,607.9 1223.3,606.5 1224.5,605.3 1224.4,604.2 1225.3,603.6 1227.1,602.5 1228.7,603.4 1229,603.9 1229.8,603.6 1231.4,604.2 1231.5,605.6 1231.2,606.5 1232.2,608.1 1232.8,608.8 1232.6,609.2 1233.8,609.8 1234.2,610.3 1233.6,611.1 1232.3,610.8 1232,611.1 1232.3,612.2 1232.8,613.8 1231.4,614 1230.9,614.5 1230.9,615.8 1230.3,615.6 1228.8,615.6 1228.3,615.1 1227.7,615.6 1227.1,615.1 1226,615.1 1224.1,614.5 1222.5,614.3 1221.4,614.3 1220.4,615.1 1219.6,615.1 1219.6,614 1219.1,612.7 1220.1,612.2 1220.1,611.1 1219.6,610 1219.6,608.9ZM1218.4,607.9 1218.5,606.2 1217.7,605.9 1216.1,605.3 1215.8,603.1 1217.6,602.2 1220.3,602.2 1221.8,601.9 1222,602.5 1222.8,602.8 1224.4,604.2 1224.5,605.3 1223.3,606.5 1222.8,607.9 1221.2,608.9 1219.6,608.9 1219.1,608.1 1218.4,607.9ZM1215.8,603.1 1215.8,600.8 1216.6,599 1218,597.8 1219.3,600.2 1220.6,600.2 1220.9,597.8 1222.3,597.3 1223,597.8 1224.4,598.7 1225.7,598.7 1226.5,599.6 1226.6,602.5 1227.1,602.5 1225.3,603.6 1224.4,604.2 1222.8,602.8 1222,602.5 1221.8,601.9 1220.3,602.2 1217.6,602.2 1215.8,603.1Z"/>
<path fill="url(#dt)" d="M1220.9,597.8 1221.1,596 1220.6,596.3 1219.5,595.3 1219.3,593.5 1221.4,592.5 1223.4,592.2 1225,592.8 1226.7,592.5 1226.9,593.2 1225.8,595 1226.3,597.8 1225.7,598.7 1224.4,598.7 1223,597.8 1222.3,597.3 1220.9,597.8Z"/>
<path fill="url(#hx)" d="M1232.8,613.8 1233.4,613.8 1233.8,613.2 1234.2,613.5 1236,613.2 1236.9,614.5 1236.5,615.1 1236.6,615.8 1237.9,616.1 1238.5,617.1 1238.5,617.6 1240.4,618.6 1241.7,618.1 1242.7,619.4 1243.6,619.4 1246,620.1 1246,620.9 1245.4,622.1 1245.7,623.5 1245.4,624.3 1243.1,625.2 1243,626.2 1241.7,626.4 1240.7,627.1 1239.2,627.3 1237.8,628 1237.9,629.4 1238.7,630.1 1240.3,629.9 1240,630.8 1238.2,631.2 1236.1,632.4 1235.2,631.9 1235.5,631 1233.9,630.3 1234.1,629.9 1235.7,629 1235.2,628.5 1232.6,628 1232.6,627.1 1231.1,627.3 1230.6,628.7 1229.3,630.3 1228.5,629.9 1227.9,630.3 1227.1,629.9 1227.6,629.6 1227.9,628.8 1228.2,628 1228.2,627.8 1228.5,627.6 1228.7,627.8 1229.6,628 1229.9,627.8 1229.6,627.6 1229.8,627.1 1229.3,626.6 1229,625.7 1228.5,625.2 1228.5,624.5 1227.9,623.8 1227.2,623.5 1226,622.8 1225,623 1224.5,623.5 1223.9,623.5 1223.4,624 1222.3,624.3 1221.8,624.7 1221.1,624.1 1220.1,624 1219,623.8 1218.2,623.5 1217.4,623 1218.2,621.3 1218,620.4 1219.5,618.4 1220.3,618.1 1220.4,617.4 1219.6,615.1 1220.4,615.1 1221.4,614.3 1222.5,614.3 1224.1,614.5 1226,615.1 1227.1,615.1 1227.7,615.6 1228.3,615.1 1228.8,615.6 1230.3,615.6 1230.9,615.8 1230.9,614.5 1231.4,614 1232.8,613.8Z"/>
<path fill="#08978c" d="M1224.5,623.5 1225,623 1226,622.8 1227.2,623.5 1227.9,623.8 1228.5,624.5 1228.5,625.2 1229,625.7 1229.3,626.6 1229.8,627.1 1229.6,627.6 1229.9,627.8 1229.6,628 1228.7,627.8 1228.5,627.6 1228.2,627.8 1228.2,628 1227.9,628.8 1227.6,629.6 1227.1,629.9 1226.9,629 1227.1,627.8 1226.9,626.9 1226,625.2 1225.5,624.5 1225,623.8 1224.5,623.5ZM1240.9,639.2 1243.1,640 1245,639.6 1246.5,639.8 1248.4,638.7 1250,638.5 1251.5,639.6 1251.9,640.4 1251.7,641.3 1252.8,641.9 1253.5,642.5 1252.3,643.2 1252.8,645.4 1252.5,646.1 1253.5,647.7 1252.7,648.1 1252,647.5 1250.3,647.3 1249.5,647.7 1247.7,647.9 1246.9,647.9 1245,648.7 1243.8,648.7 1243,648.3 1241.2,648.9 1240.6,649.5 1240.6,648.5 1239.8,648.9 1239.2,649.5 1239.8,650.5 1239.2,649.5 1239.8,648.7 1238.8,648.9 1237.4,648.5 1236.3,649.7 1233.9,649.9 1232.6,648.9 1230.9,648.7 1230.6,649.5 1229.5,649.9 1227.9,648.7 1226.1,648.7 1225.2,646.7 1224.1,645.6 1224.9,644 1223.9,643 1225.7,641.1 1228,640.9 1228.7,639.4 1231.7,639.6 1233.6,638.3 1235.5,637.7 1238.2,637.7 1240.9,639.2ZM1225.5,640.4 1224.2,641.5 1223.6,640.6 1223.8,640.2 1224.1,640 1224.5,638.5 1223.8,638.1 1225.3,637.4 1226.8,637.7 1226.9,638.5 1228.3,639.2 1228,639.6 1226.1,639.8 1225.5,640.4ZM1233.6,651.8 1234.7,651.3 1235.8,651.3 1237.3,650.7 1236.1,651.6 1236.3,652 1234.7,652.8 1233.9,652.6 1233.6,651.8Z"/>
<path fill="#275f87" d="M1245.8,634.6 1246.3,635.3 1247.3,634.6 1249.6,635 1251.9,636.4 1252,636.4 1253,636.1 1254.6,636.6 1255,637.4 1256,637.9 1256.5,638.1 1257.6,639.4 1258.2,639.4 1258.5,638.9 1259.5,638.1 1260.3,639.2 1261.1,640.6 1261.9,640.9 1262.3,641.3 1261.1,641.5 1260.8,643.2 1260.4,644 1260,644.4 1260,645.4 1259.5,645.4 1258.5,644.4 1259.2,643.4 1258.7,642.7 1258.1,643 1256.2,644.4 1255.5,644.6 1254.6,644 1253.8,643.4 1253.5,642.5 1252.8,641.9 1251.7,641.3 1251.9,640.4 1251.5,639.6 1250,638.5 1248.4,638.7 1248.5,637.7 1248.2,636.4 1247.3,635.5 1245.8,634.6ZM1260.3,627.8 1259.5,627.3 1259.6,626.2 1258.7,624.7 1257.4,624.7 1256.2,623 1256.9,621.1 1256.6,620.6 1257.7,617.9 1259.5,619.4 1259.6,617.6 1263,614.8 1265.4,614.8 1268.9,616.6 1270.8,617.6 1272.5,616.6 1275.1,616.3 1277,617.9 1277.4,617.1 1279.7,617.1 1280.1,615.8 1277.5,614.1 1279,613 1278.7,612.2 1280.3,611.4 1279.2,609.5 1279.8,608.7 1285.9,607.6 1286.6,607 1290.6,606 1292,604.8 1294.9,605.3 1295.4,608.4 1297,607.6 1299,608.7 1298.9,610 1300.5,610 1303.8,608.1 1304.4,607.3 1305.9,610.3 1309.4,616.8 1310.3,615.6 1312.4,617.1 1314.8,616.3 1315.6,616.8 1316.3,618.4 1317.5,618.9 1318.1,619.9 1320.2,619.6 1321.1,621.1 1321.7,620.9 1323.3,620.4 1326.4,618.4 1328.7,617.1 1330.2,617.9 1331.8,617.9 1332.9,619.1 1334.5,619.2 1336.8,619.9 1338.3,618.1 1337.6,616.6 1339.4,614 1341.1,615.1 1342.6,615.3 1344.5,615.8 1344.8,617.9 1347,618.9 1348.4,618.4 1350.5,618.1 1352.1,618.4 1353.7,619.6 1354.6,620.9 1356.1,620.9 1358.1,621.3 1359.5,620.6 1361.6,620.4 1364,618.6 1364.9,618.9 1365.7,619.6 1367.6,619.4 1369.6,620.4 1371.8,618.9 1371.8,617.6 1373.2,615.1 1374,614.1 1374,612.7 1373.2,611.9 1374.5,610.6 1376.4,610.3 1378.6,610 1381,610.8 1382.3,611.9 1383.4,614.5 1383.8,615.6 1384.5,617.4 1385.1,619.6 1387.8,620.6 1389.7,622.3 1390.4,624.5 1392.7,624.5 1394.2,623.5 1396.7,622.8 1395.9,625 1395.3,625.9 1394.8,628.5 1393.7,630.8 1391.8,630.3 1390.4,631.1 1390.8,633 1390.5,635.7 1389.7,635.7 1389.7,636.8 1388.8,635.5 1388.1,636.8 1385.8,637.7 1385.9,638.7 1384.5,638.7 1383.8,638.1 1382.7,639.6 1381,640.6 1379.7,642.1 1377.5,642.7 1376.2,643.6 1374.6,644.2 1375.4,643.2 1375.1,642.3 1376.4,641.1 1375.4,640 1374.2,640.6 1372.3,642.1 1371.3,643.4 1369.7,643.6 1368.9,644.6 1369.9,645.8 1371.1,646.2 1371.1,647.3 1372.4,647.7 1374.2,646.2 1375.6,647.1 1376.7,647.1 1376.9,648.3 1374.6,648.7 1373.8,649.9 1372.4,650.9 1371.6,652.2 1373.2,653.2 1373.8,655.1 1374.8,656.9 1375.9,658.4 1375.9,659.9 1375,660.3 1375.3,661.4 1376.2,661.9 1375.9,663.4 1375.6,664.9 1374.6,665.1 1373.5,666.9 1372.3,669.4 1370.8,671.5 1368.6,673.1 1366.4,674.5 1364.6,674.7 1363.7,675.5 1363,675 1362.1,675.7 1359.9,676.6 1358.3,676.9 1357.6,678.8 1356.8,678.8 1356.4,677.6 1356.8,676.9 1354.6,676.4 1354,676.6 1352.2,676.2 1351.6,675.5 1351.8,674.5 1350.3,674.2 1349.5,673.4 1348.3,674.5 1346.7,674.7 1345.4,674.7 1344.6,675 1343.8,675.4 1344,677.3 1343.2,677.3 1343,676.9 1343,676.2 1341.8,676.6 1341.1,676.4 1341.3,678.6 1340.3,679 1339.5,679.7 1338.4,679.8 1337.6,681.7 1337,682 1337.8,683.4 1338.7,684.7 1339.4,685.7 1338.7,687.2 1338.3,687.6 1338.6,688.4 1339.7,689.7 1339.9,690.5 1339.9,691.4 1340.5,692.9 1339.5,694.4 1338.9,696.1 1338.7,694.8 1339.2,693.7 1338.6,692.7 1338.7,690.9 1338.1,690.1 1337.6,688.1 1337.3,685.9 1336.7,684.6 1335.6,685.4 1333.8,686.6 1332.9,686.4 1331.9,686.1 1332.4,683.9 1332.1,682.4 1330.8,680.3 1331.1,679.8 1330.2,679.5 1329.1,678.1 1328.9,676.7 1329.5,677.1 1329.5,675.9 1330.3,675.4 1330.2,674.7 1330.5,674.1 1330.5,672.2 1331.8,672.6 1332.5,671.2 1332.5,670.3 1333.5,668.8 1333.3,667.8 1335.4,666.5 1336.5,666.9 1336.5,665.8 1337,665.4 1336.8,664.7 1335.1,664.5 1335.7,663.8 1334.9,662.5 1333.8,663.4 1332.5,662.9 1330.6,664.1 1329.2,665.4 1327.9,665.6 1327.3,665.2 1326.4,665.1 1325.2,664.7 1324.4,665.2 1323.3,666.5 1323.2,665.1 1322.2,665.4 1320.4,665.3 1318.6,664.9 1317.3,664.1 1316,663.8 1315.6,662.9 1314.6,662.5 1313,661.4 1311.7,660.8 1311.1,661.2 1308.9,659.9 1307.3,658.8 1307,656.7 1308.1,656.9 1308.1,655.9 1307.5,655 1307.6,653.4 1305.9,651.1 1303.3,650.3 1302.8,648.7 1301.7,647.9 1301.4,647.3 1300,648.5 1298.1,648.7 1296.3,649.1 1295.5,649.9 1295.9,650.7 1296,651.6 1295.2,652.6 1295.4,653.4 1294.9,654 1293.3,654 1294,655.1 1293,655.7 1292.4,656.9 1292.4,658 1291.7,658.6 1291.3,658.4 1290,658.6 1289.8,659.1 1288.6,659.1 1287.8,660.3 1287.6,661.7 1285.5,662.5 1284.6,662.3 1284.1,662.9 1283.3,662.5 1281.6,662.9 1279,661.9 1280.5,660.3 1280.3,658.9 1279,658.8 1278.4,656 1279.1,655 1278.4,654.6 1278.9,653.2 1279.5,650.7 1279.3,649.1 1278.2,649.1 1276.3,647.3 1275.1,647.1 1273.3,646 1272.2,645.8 1271.6,646.2 1270.4,646.1 1269.3,647.3 1267.9,647.7 1267.6,646.2 1267.9,644.1 1266.6,643.4 1267.1,642 1266,641.9 1266.3,640 1267.9,640.6 1269.2,639.9 1268.1,638.5 1267.6,637.4 1266.3,637.9 1266.2,639.6 1265.7,638.1 1265.5,637.7 1266,636.8 1265.7,635.9 1263.8,635.3 1263.1,633.3 1262.2,632.6 1262.2,631.9 1263.8,632.1 1263.8,630.6 1265.2,630.1 1266.5,630.3 1266.8,628.3 1266.5,626.6 1264.9,626.9 1263.6,626.4 1261.7,627.3 1260.3,627.8ZM1357.5,681.5 1356.2,682.4 1354.9,681.9 1354.8,680.3 1355.6,679.7 1357.3,679.1 1358.3,679.1 1358.6,679.8 1358,680.5 1357.5,681.5Z"/>
<path fill="#aa501a" d="M1305.9,651.1 1307.6,653.4 1307.5,655 1308.1,655.9 1308.1,656.9 1307,656.7 1307.3,658.8 1308.9,659.9 1311.1,661.2 1310.2,662.1 1309.5,663.8 1311.1,664.5 1312.5,665.4 1314.6,666.3 1316.8,666.7 1317.8,667.6 1318.9,667.8 1320.8,668.1 1322.2,668.1 1322.4,667.4 1322.1,666.3 1322.2,665.4 1323.2,665.1 1323.3,666.5 1323.3,666.9 1324.8,667.6 1325.9,667.2 1327.1,667.4 1328.4,667.4 1328.6,666.1 1327.9,665.6 1329.2,665.4 1330.6,664.1 1332.5,662.9 1333.8,663.4 1334.9,662.5 1335.7,663.8 1335.1,664.5 1336.8,664.7 1337,665.4 1336.5,665.8 1336.5,666.9 1335.4,666.5 1333.3,667.8 1333.5,668.8 1332.5,670.3 1332.5,671.2 1331.8,672.6 1330.5,672.2 1330.5,674.1 1330.2,674.7 1330.3,675.4 1329.5,675.9 1328.6,673.1 1328.3,673.1 1327.9,674.2 1327.1,673.3 1327.6,672.2 1328.3,672.2 1329.1,670.7 1328.1,670.4 1326.7,670.4 1325.1,670.1 1324.9,668.9 1324.3,668.8 1323,668.1 1322.4,669.2 1323.5,670.3 1322.5,670.8 1322.2,671.5 1323.2,672 1322.9,673.1 1323.5,674.3 1323.7,675.7 1323.5,676.4 1322.4,676.4 1320.4,676.7 1320.5,678.1 1319.7,679 1317.5,680.2 1315.6,682.2 1314.4,683.2 1312.9,684.4 1312.9,685.1 1312.1,685.6 1310.6,686.2 1309.8,686.2 1309.4,687.6 1309.7,689.7 1309.8,691 1309.2,692.5 1309.2,695.3 1308.2,695.5 1307.6,696.8 1308.1,697.3 1306.7,697.8 1306,698.7 1305.4,699.3 1304,697.8 1303.2,695.5 1302.5,693.8 1302.1,693 1301.3,691.5 1300.8,689.4 1300.5,688.4 1299,686.1 1298.4,682.9 1297.9,680.7 1297.9,678.6 1297.6,676.9 1295.4,677.9 1294.3,677.8 1292.2,675.7 1292.8,675 1292.4,674.5 1290.6,672.9 1291.6,671.7 1295.1,671.7 1294.7,670.3 1294,669.4 1293.8,667.9 1292.7,667.2 1294.4,665.3 1296.3,665.4 1297.9,663.5 1299,661.6 1300.5,659.7 1300.5,658.4 1301.9,657.2 1300.6,656.3 1300,655.1 1299.4,653.4 1300.1,652.6 1302.7,653 1304.4,652.6 1305.9,651.1ZM1301.7,647.9 1302.8,648.7 1303.3,650.3 1305.9,651.1 1304.4,652.6 1302.7,653 1300.1,652.6 1299.4,653.4 1300,655.1 1300.6,656.3 1301.9,657.2 1300.5,658.4 1300.5,659.7 1299,661.6 1297.9,663.5 1296.3,665.4 1294.4,665.3 1292.7,667.2 1293.8,667.9 1294,669.4 1294.7,670.3 1295.1,671.7 1291.6,671.7 1290.6,672.9 1289.3,672.6 1288.9,671.2 1287.8,669.9 1284.7,670.3 1282.2,670.3 1280,670.4 1280.6,668.5 1282.8,667.4 1282.7,666.7 1282,666.3 1281.9,664.7 1280.5,664 1279,661.9 1281.6,662.9 1283.3,662.5 1284.1,662.9 1284.6,662.3 1285.5,662.5 1287.6,661.7 1287.8,660.3 1288.6,659.1 1289.8,659.1 1290,658.6 1291.3,658.4 1291.7,658.6 1292.4,658 1292.4,656.9 1293,655.7 1294,655.1 1293.3,654 1294.9,654 1295.4,653.4 1295.2,652.6 1296,651.6 1295.9,650.7 1295.5,649.9 1296.3,649.1 1298.1,648.7 1300,648.5 1301.4,647.3 1301.7,647.9Z"/>
<path fill="#08978c" d="M1322.2,665.4 1322.1,666.3 1322.4,667.4 1322.2,668.1 1320.8,668.1 1318.9,667.8 1317.8,667.6 1316.8,666.7 1314.6,666.3 1312.5,665.4 1311.1,664.5 1309.5,663.8 1310.2,662.1 1311.1,661.2 1311.7,660.8 1313,661.4 1314.6,662.5 1315.6,662.9 1316,663.8 1317.3,664.1 1318.6,664.9 1320.4,665.3 1322.2,665.4Z"/>
<path fill="url(#dt)" d="M1329.5,675.9 1329.5,677.1 1328.9,676.7 1329.1,678.1 1328.6,677.3 1328.4,676.4 1328.1,675.5 1327.5,674.5 1326,674.5 1326.2,675.2 1325.7,676.2 1324.9,675.9 1324.8,676 1324.3,675.9 1323.7,675.7 1323.5,674.3 1322.9,673.1 1323.2,672 1322.2,671.5 1322.5,670.8 1323.5,670.3 1322.4,669.2 1323,668.1 1324.3,668.8 1324.9,668.9 1325.1,670.1 1326.7,670.4 1328.1,670.4 1329.1,670.7 1328.3,672.2 1327.6,672.2 1327.1,673.3 1327.9,674.2 1328.3,673.1 1328.6,673.1 1329.5,675.9Z"/>
<path fill="#275f87" d="M1312.2,700 1311.9,701.6 1311.3,702.1 1309.8,702.5 1309.2,701.2 1308.9,698.9 1309.5,696.3 1310.6,697.1 1311.4,698.2 1312.2,700Z"/>
<path fill="#08978c" d="M1267.9,647.7 1269.3,647.3 1270.4,646.1 1271.6,646.2 1272.2,645.8 1273.3,646 1275.1,647.1 1276.3,647.3 1278.2,649.1 1279.3,649.1 1279.5,650.7 1278.9,653.2 1278.4,654.6 1279.1,655 1278.4,656 1279,658.8 1280.3,658.9 1280.5,660.3 1279,661.9 1280.5,664 1281.9,664.7 1282,666.3 1282.7,666.7 1282.8,667.4 1280.6,668.5 1280,670.4 1277,669.9 1275.2,669.6 1273.5,669.4 1272.8,667.1 1272,666.9 1270.8,667.1 1269.2,667.9 1267.3,667.4 1265.7,666 1264.1,665.4 1263.1,663.8 1261.9,661.4 1261.1,661.6 1260,661 1259.5,661.7 1258.5,660.6 1258.5,659.7 1258.1,659.7 1258.2,658.4 1257.4,656.9 1255.5,655.9 1254.4,654 1254.7,652.6 1255.7,651.8 1255.5,650.7 1254.4,650.1 1253.5,647.7 1252.5,646.1 1252.8,645.4 1252.3,643.2 1253.5,642.5 1253.8,643.4 1254.6,644 1255.5,644.6 1256.2,644.4 1258.1,643 1258.7,642.7 1259.2,643.4 1258.5,644.4 1259.5,645.4 1260,645.4 1260.4,646.9 1261.9,647.3 1263,648.3 1265.4,648.7 1267.7,648.1 1267.9,647.7ZM1254.4,650.1 1255.5,650.7 1255.7,651.8 1254.7,652.6 1254.4,654 1255.5,655.9 1257.4,656.9 1258.2,658.4 1258.1,659.7 1258.5,659.7 1258.5,660.6 1259.5,661.7 1258.5,661.6 1258.9,662.5 1258.7,662.9 1259.2,664.1 1258.1,664.3 1257.7,663.4 1256.3,663.2 1253.3,663 1248.8,659.3 1246.5,658 1244.6,657.4 1243.9,655.1 1247.4,653.2 1248.1,650.9 1247.9,649.3 1248.7,648.9 1249.5,647.7 1250.3,647.3 1252,647.5 1252.7,648.1 1253.5,647.7 1254.4,650.1Z"/>
<path fill="#275f87" d="M1243.9,655.1 1240.7,657.2 1239,656.5 1239.2,656.1 1239.2,655.3 1239.6,654.4 1240.4,653.6 1240.1,652.8 1239.5,652.8 1239.3,651.3 1239.8,650.5 1240.6,649.5 1240.6,649.5 1241.2,648.9 1243,648.3 1243.8,648.7 1245,648.7 1246.9,647.9 1247.7,647.9 1249.5,647.7 1248.7,648.9 1247.9,649.3 1248.1,650.9 1247.4,653.2 1243.9,655.1ZM1238.7,657.1 1239,656.5 1240.7,657.2 1243.9,655.1 1244.6,657.4 1244.2,657.8 1241.1,658.8 1242.7,660.6 1242.2,661 1241.9,661.6 1240.6,661.7 1240.3,662.5 1239.6,663 1237.8,662.7 1237.7,662.5 1238.5,659.5 1238.5,658.8 1238.7,658.2 1238.7,657.1Z"/>
<path fill="#08978c" d="M1239,656.5 1238.7,657.1 1238.7,658.2 1238.5,658.8 1238.5,659.5 1237.7,662.5 1236.8,659.3 1237.3,658.8 1237.1,658.6 1237.6,657.6 1237.8,656.3 1238,655.7 1238.7,654.2 1239.4,652.8 1240.1,652.8 1240.4,653.6 1239.6,654.4 1239.2,655.3 1239.2,656.1 1239,656.5ZM1250.3,685.6 1250,684.7 1249.5,684.2 1249.5,683.6 1248.7,683 1247.7,681.5 1247.3,680.2 1246.1,679 1245.5,678.8 1244.4,677.1 1244.2,675.9 1244.4,674.8 1243.4,672.9 1242.7,672.2 1241.9,671.9 1241.4,670.8 1241.4,670.4 1240.9,669.6 1240.4,669.2 1239.8,667.8 1238.8,666.3 1238,665.1 1237.3,665.1 1237.6,664.1 1237.6,663.5 1237.8,662.7 1239.6,663 1240.3,662.5 1240.6,661.7 1241.9,661.6 1242.2,661 1242.7,660.6 1241.1,658.8 1244.2,657.8 1244.6,657.4 1246.5,658 1248.8,659.3 1253.3,663 1256.3,663.2 1257.7,663.4 1258.1,664.3 1259.2,664.1 1259.8,665.8 1260.6,666.1 1260.9,666.9 1262,667.6 1262,668.3 1261.9,669 1262,669.6 1262.5,670.1 1262.8,670.6 1263,671 1263.5,671.3 1263.9,671.3 1264.3,672 1264.3,672.4 1264.9,674.1 1269.7,675 1270,674.7 1270.8,675.9 1269.7,679.3 1264.9,681 1260.3,681.7 1258.9,682.4 1257.7,684.2 1256.9,684.6 1256.5,683.9 1256,684.1 1254.4,683.9 1254.1,683.7 1252.3,683.7 1251.9,683.9 1251.2,683.4 1250.8,684.2 1250.9,684.9 1250.3,685.6ZM1263,671 1262.8,669.7 1263.3,668.8 1263.8,668.7 1264.3,669.2 1264.3,670.3 1263.9,671.3 1263.5,671.3 1263,671ZM1264.3,672 1264.6,671.9 1264.6,672.4 1265.8,672 1267.1,672 1268.1,672.2 1269.2,671 1270.3,669.9 1271.4,668.7 1271.7,669.4 1271.9,670.8 1271.1,670.8 1270.9,671.9 1271.2,672.2 1270.4,672.6 1270.4,673.3 1270,674 1270,674.7 1269.7,675 1264.9,674.1 1264.3,672.4 1264.3,672Z"/>
<path fill="#275f87" d="M1266.6,684.9 1265.5,685.4 1265.2,686.2 1265.2,686.7 1263.6,687.4 1261.1,688.2 1259.6,689.4 1258.9,689.6 1258.4,689.4 1257.6,690.1 1256.5,690.4 1255.2,690.5 1254.7,690.5 1254.4,691 1253.9,691.1 1253.8,691.5 1253,691.5 1252.5,691.7 1251.4,691.7 1250.9,690.7 1251.1,689.7 1250.8,689.2 1250.4,688.1 1250,687.4 1250.3,687.2 1250.1,686.6 1250.3,686.2 1250.3,685.6 1250.9,684.9 1250.8,684.2 1251.2,683.4 1251.9,683.9 1252.3,683.7 1254.1,683.7 1254.4,683.9 1256,684.1 1256.5,683.9 1256.9,684.6 1257.7,684.2 1258.9,682.4 1260.3,681.7 1264.9,681 1266.2,683.9 1266.6,684.9ZM1275.8,677.4 1275.2,678.6 1274.4,678.5 1274.1,679 1273.9,679.8 1274.1,680.8 1273.9,681.2 1273.1,681.2 1272.2,681.7 1272,682.5 1271.7,682.9 1270.8,682.9 1270.1,683.4 1270.1,684.1 1269.3,684.5 1268.4,684.4 1267.4,684.9 1266.6,684.9 1266.2,683.9 1264.9,681 1269.7,679.3 1270.8,675.9 1270,674.7 1270,674 1270.4,673.3 1270.4,672.6 1271.2,672.2 1270.9,671.9 1271.1,670.8 1271.9,670.8 1272.5,672 1273.5,672.6 1274.6,672.9 1275.5,673.1 1276.3,674.2 1276.8,674.7 1277.3,675 1277.3,675.4 1276.6,676.4 1276.5,676.9 1275.8,677.4ZM1271.7,669.4 1271.4,668.7 1271.9,668.1 1272,668.3 1271.9,669 1271.7,669.4Z"/>
<path fill="#08978c" d="M1345.3,692.4 1343.8,691.7 1342.4,691.7 1342.7,690.4 1341.3,690.4 1341.1,692.2 1340.3,694.7 1339.9,696.1 1339.9,697.3 1341,697.3 1341.6,698.7 1341.9,700.2 1342.7,701 1343.7,701.3 1344.5,702.1 1344,702.8 1343,702.9 1342.9,702.1 1341.6,701.5 1341.3,701.6 1340.6,701.2 1340.3,700.3 1339.5,699.4 1338.7,698.6 1338.4,699.5 1338.3,698.6 1338.4,697.6 1338.9,696.1 1339.5,694.4 1340.5,692.9 1339.9,691.4 1339.9,690.5 1339.7,689.7 1338.6,688.4 1338.3,687.6 1338.7,687.2 1339.4,685.7 1338.7,684.7 1337.8,683.4 1337,682 1337.6,681.7 1338.4,679.8 1339.5,679.7 1340.3,679 1341.3,678.6 1341.9,679.1 1342.1,680.2 1343.2,680.2 1342.7,682 1342.9,683.6 1344.5,682.5 1344.9,682.9 1345.9,682.8 1346.2,682.2 1347.4,682.4 1348.6,683.7 1348.7,685.4 1350,686.7 1349.9,688.2 1349.4,688.9 1348,688.7 1345.9,689.1 1344.8,690.4 1345.3,692.4Z"/>
<path fill="#275f87" d="M1349.4,688.9 1349.9,688.2 1350,686.7 1348.7,685.4 1348.6,683.7 1347.4,682.4 1346.2,682.2 1345.9,682.8 1344.9,682.9 1344.5,682.5 1342.9,683.6 1342.7,682 1343.2,680.2 1342.1,680.2 1341.9,679.1 1341.3,678.6 1341.1,676.4 1341.8,676.6 1343,676.2 1343,676.9 1343.2,677.3 1344,677.3 1343.8,675.4 1344.6,675 1345.6,676.4 1346.2,677.9 1348.1,677.9 1348.7,679.5 1347.8,680 1347.3,680.5 1349.2,681.5 1350.5,683.6 1351.6,685.1 1352.7,686.2 1353.2,687.4 1352.9,689.1 1351.4,688.4 1350.7,689.6 1349.4,688.9Z"/>
<path fill="#08978c" d="M1354,676.6 1351.8,678.1 1350.5,679.7 1350.2,680.8 1351.3,682.7 1352.9,684.9 1354.3,685.9 1355.3,687.2 1355.9,690.4 1355.7,693.2 1354.5,694.3 1352.6,695.3 1351.3,696.8 1349.4,698.2 1348.7,697.3 1349.2,696.1 1348,695.1 1349.4,694.5 1351,694.7 1350.3,693.3 1353,692.2 1353.2,690.2 1352.9,689.1 1353.2,687.4 1352.7,686.2 1351.6,685.1 1350.5,683.6 1349.2,681.5 1347.3,680.5 1347.8,680 1348.7,679.5 1348.1,677.9 1346.2,677.9 1345.6,676.4 1344.6,675 1345.4,674.7 1346.7,674.7 1348.3,674.5 1349.5,673.4 1350.3,674.2 1351.8,674.5 1351.6,675.5 1352.2,676.2 1354,676.6Z"/>
<path fill="#275f87" d="M1346.7,695 1345.3,692.4 1344.8,690.4 1345.9,689.1 1348,688.7 1349.4,688.9 1350.7,689.6 1351.4,688.4 1352.9,689.1 1353.2,690.2 1353,692.2 1350.3,693.3 1351,694.7 1349.4,694.5 1348,695.1 1346.7,695Z"/>
<path fill="#08978c" d="M1342.9,702.1 1343,702.9 1344,702.8 1344.5,702.1 1344.9,702.3 1345.8,703.3 1346.5,704.2 1346.5,705.3 1346.4,706.2 1346.5,706.6 1346.7,707.6 1347.3,708.1 1347.8,709.5 1347.8,710 1346.7,710.2 1345.3,708.9 1343.3,707.6 1343.2,706.8 1342.2,705.8 1342.1,704.4 1341.4,703.6 1341.6,702.4 1341.3,701.6 1341.6,701.5 1342.9,702.1ZM1355.4,709.7 1356.5,708.9 1357.6,709.4 1358.9,709 1359.2,707.8 1361.8,707.1 1362.9,705.2 1363.7,704.9 1364.3,704.2 1365.6,703.4 1366.9,702.3 1367.6,701 1368.3,701 1369.2,701.8 1369.2,702.5 1371.6,703.4 1371.5,704.1 1370.3,704.1 1370.7,704.9 1369.6,705.5 1368.6,707 1369.7,708.4 1369.6,709.2 1371.3,710.7 1369.4,710.8 1368.9,711.9 1368.9,713.4 1367.5,714.5 1367.3,716.1 1366.7,718.5 1366.5,718 1364.8,718.7 1364.2,717.7 1363,717.6 1362.2,717.1 1360.3,717.7 1359.7,716.9 1358.6,716.9 1357.3,716.8 1357.2,714.7 1356.4,714.2 1355.6,712.9 1355.4,711.5 1355.4,709.7ZM1333.7,703.3 1337.2,703.7 1338.6,705.2 1339.7,706.3 1340.6,707 1342.1,708.7 1343.8,708.7 1345.1,709.9 1346,711.1 1347.2,711.9 1346.5,713.2 1347.5,713.9 1348.1,713.9 1348.3,715 1348.9,715.8 1350,716 1350.8,717.1 1350.5,719 1350.3,721.6 1348.6,721.6 1347.3,720.1 1345.3,718.9 1344.6,717.9 1343.3,716.6 1342.6,715.5 1341.3,713.2 1340,711.8 1339.5,710.5 1338.9,709.2 1337.5,708.1 1336.7,706.8 1335.4,705.8 1333.8,704.1 1333.7,703.3ZM1349.7,723.2 1350.8,721.6 1352.7,721.7 1354,722.2 1354.6,722.4 1354.8,723 1357.8,723.2 1358.3,722.6 1361.1,723.2 1361.7,724.3 1364.2,724.7 1366.1,725.6 1364.3,726.2 1362.6,725.5 1361.1,725.6 1359.4,725.5 1358,725.1 1356.1,724.5 1354.9,724.3 1354.3,724.7 1351.4,724 1351.1,723.2 1349.7,723.2ZM1381.1,709.9 1379.9,711.5 1378.8,711.8 1377.2,711.5 1374.6,711.5 1373.2,711.8 1373,712.9 1374.3,714.3 1375.3,713.6 1378.1,713.1 1378.1,713.9 1377.3,713.5 1376.7,714.5 1375.3,715.2 1376.9,717.2 1376.5,717.7 1378,719.7 1378,720.6 1377,721.1 1376.4,720.6 1377.2,719.3 1375.6,720 1375.3,719.5 1375.4,718.9 1374.3,717.9 1374.4,716.3 1373.4,716.8 1373.5,718.7 1373.5,720.9 1372.6,721.3 1371.9,720.8 1372.4,719.3 1372.1,717.7 1371.5,717.7 1371,716.6 1371.6,715.5 1371.8,714.3 1372.6,711.8 1372.9,711.1 1374.3,710 1375.6,710.5 1377.5,710.7 1379.4,710.7 1381,709.5 1381.1,709.9ZM1374,728.6 1373.4,728.7 1371.3,727.6 1372.7,727.3 1373.5,727.8 1374.2,728.2 1374,728.6ZM1379.9,728.4 1378.6,728.9 1378.4,728.6 1378.4,728.1 1379.2,727.1 1380.8,726.4 1381,726.8 1381,727.3 1379.9,728.4ZM1369.6,725.1 1370.2,725.6 1371.1,725.5 1371.5,726.1 1369.7,726.4 1368.6,726.6 1367.6,726.6 1368.3,725.8 1369.1,725.6 1369.6,725.1ZM1377.5,725.1 1377.3,726 1375,726.4 1372.7,726.3 1372.7,725.6 1374,725.3 1375,725.8 1376.1,725.8 1377.5,725.1ZM1385.4,708.6 1385.6,709.5 1386.5,709.7 1386.7,710.3 1386.5,711.6 1385.8,711.5 1385.5,712.6 1386.2,713.4 1385.8,713.5 1385.1,712.6 1384.6,710.5 1385,709.2 1385.4,708.6ZM1389.6,717.1 1390,718.4 1388.8,717.6 1387.5,717.6 1386.5,717.6 1385.4,717.6 1385.8,716.6 1387.8,716.6 1389.6,717.1ZM1406.2,726.8 1404.8,725.5 1403.2,725.1 1402.9,725.6 1400.8,725.6 1401.5,724.3 1402.6,723.9 1402.1,722.1 1401.3,720.8 1398.3,719.3 1397,719.3 1394.6,717.7 1394.2,718.5 1393.5,718.7 1393.2,718 1393.2,717.4 1391.9,716.6 1393.7,716.1 1394.8,716.1 1394.6,715.6 1392.3,715.6 1391.6,714.7 1390.2,714.3 1389.6,713.5 1391.8,713.2 1392.6,712.7 1395.1,713.4 1395.3,714 1395.8,716.6 1397.5,717.6 1398.8,715.8 1400.5,714.8 1402,714.8 1403.4,715.5 1404.5,716 1406.2,716.3 1406.2,721.6 1406.2,726.8Z"/>
<path fill="#275f87" d="M1406.2,716.3 1408.9,717.4 1412,718.4 1413.1,719.2 1413.9,720 1414.2,720.9 1416.7,721.9 1417.2,722.7 1415.7,722.9 1416.1,724 1417.5,725 1418.5,726.8 1419.4,726.8 1419.4,727.4 1420.5,727.8 1420.1,728.1 1421.8,728.7 1421.6,729.2 1420.5,729.4 1420.2,728.9 1417.2,728.4 1415.9,727.4 1415.1,726.4 1414.2,725.1 1412.1,724.3 1410.8,724.8 1409.9,725.3 1410.1,726.6 1408.8,727.1 1408,726.9 1406.2,726.8 1406.2,721.6 1406.2,716.3ZM1424.7,718 1425.5,719.3 1425,719.8 1424.7,718.9 1424.3,719 1424,718.7 1424.2,720 1423.7,720.9 1422.9,721.1 1422.6,721.4 1421.8,721.9 1420.9,722.2 1420.1,722.2 1418.8,721.8 1417.8,721.3 1418,720.8 1419.4,721.1 1420.2,720.9 1420.5,720.1 1420.7,720.1 1420.9,720.9 1421.8,720.9 1422.3,720.3 1423.1,719.8 1422.9,718.9 1423.9,718.7 1424.2,719 1424.7,718Z"/>
<path fill="#aa501a" d="M1375,681.9 1375.9,682.4 1376.4,681.9 1376.9,684.2 1376.5,685.6 1375.6,686.2 1375.3,687.6 1375.6,688.9 1376.5,689.1 1377.2,688.9 1379.2,689.7 1379.1,690.7 1379.6,691 1379.4,691.9 1378.1,691 1377.5,690.1 1377.2,690.7 1376.1,689.7 1374.6,690.1 1373.8,689.6 1374,688.9 1374.5,688.6 1374,688.1 1373.8,688.7 1373,687.8 1372.7,687.1 1372.7,685.4 1373.4,686.1 1373.5,683.4 1374,681.9 1375,681.9ZM1383.1,698.6 1383.2,700.5 1382.7,702 1382.1,700.3 1381.5,701.2 1381.9,702.4 1381.5,703.1 1379.6,702.1 1379.1,701 1379.6,700.2 1378.6,699.5 1378.1,700.2 1377.3,700 1376.2,701 1375.9,700.5 1376.5,699.2 1377.5,698.7 1378.4,698.1 1378.9,698.9 1380.2,698.4 1380.5,697.7 1381.6,697.6 1381.5,696.3 1382.7,697.1 1382.9,697.9 1383.1,698.6ZM1372.1,693.7 1372.4,695 1371.3,696 1370.5,697.1 1368.4,698.6 1369.2,697.4 1370.3,696.4 1371.3,695.3 1372.1,693.7ZM1379.2,695.5 1378.6,696 1378.1,697.1 1377.6,697.6 1376.7,696.4 1377,696 1377.3,695.5 1377.5,694.5 1378.4,694.5 1378.1,695.5 1379.4,694 1379.2,695.5ZM1382.1,694.3 1380.8,693.8 1380.8,694.4 1381.3,695.3 1380.5,695.8 1380.5,694.7 1380,694.5 1379.7,693.5 1380.7,693.7 1380.7,693 1379.7,691.7 1381.1,691.9 1381.6,692.4 1382.1,694.3ZM1376.1,695.3 1375.9,692.9 1376.9,693.3 1377.8,693.3 1377.8,694 1377,694.8 1376.1,695.3ZM1375.3,690.9 1375,692.4 1374.2,691.5 1373.4,690.2 1374.8,690.4 1375.3,690.9Z"/>
<path fill="#08978c" d="M1386.1,644.8 1387.5,647.3 1388,648.5 1388,650.9 1387.3,651.8 1385.9,652.2 1384.6,653 1383.2,653.2 1383.1,652.2 1383.4,650.7 1382.6,648.7 1383.8,648.3 1382.7,646.7 1382.7,646.5 1383.5,646.5 1384.2,645.4 1385.3,645.4 1385.9,645.2 1386.1,644.8ZM1406.2,647.9 1405.6,649.5 1405.9,650.5 1405.1,651.8 1403,652.6 1400.2,652.8 1398,655 1396.9,654.4 1396.9,652.8 1394,653.2 1392.3,654.2 1390.3,654.2 1391.9,655.7 1390.8,658.8 1389.9,659.7 1389.1,658.9 1389.4,657.2 1388.5,656.7 1387.8,655.3 1389.4,654.8 1390.2,653.6 1391.8,652.6 1392.9,651.3 1396.1,650.7 1397.8,651.1 1399.4,647.5 1400.5,648.5 1402.9,646.5 1403.7,645.6 1404.8,643.2 1404.5,640.6 1405.1,639.4 1406.9,638.9 1407.7,641.9 1407.7,643.6 1406.2,645.6 1406.2,647.9ZM1395,653.2 1396.1,653.8 1396.4,654.4 1395.4,655.5 1394.8,655 1394,655.3 1393.5,656.5 1392.6,655.9 1392.6,655 1393.4,653.8 1394.3,654.2 1395,653.2ZM1410.8,632.8 1412,633.4 1413.1,632.4 1413.4,634.8 1411.2,635.5 1409.7,637.7 1407.2,636.1 1406.4,638.5 1404.6,638.5 1404.3,636.4 1405.1,634.8 1406.9,634.6 1407.4,631.5 1407.8,629.6 1409.6,632.1 1410.8,632.8Z"/>
<path fill="#275f87" d="M1172.9,650.5 1174,650.5 1175,651.4 1176.6,651.3 1178.8,651.6 1180.4,650.7 1182.1,650.3 1183.1,649.5 1184.7,648.9 1187.4,648.5 1189.9,648.3 1190.7,648.7 1192.3,647.9 1193.9,647.9 1194.5,648.3 1195.6,648.3 1197.4,647.5 1198.5,647.7 1198.5,648.7 1199.8,647.9 1199.9,648.3 1199.1,649.3 1199.1,650.3 1199.6,650.7 1199.5,652.4 1198.3,653.4 1198.7,654.4 1199.6,654.4 1199.9,655.3 1200.6,655.7 1202.5,656.3 1203.1,656.1 1204.4,656.5 1206.4,657.2 1207.2,658.9 1208.7,659.3 1210.9,660.1 1212.6,661 1213.4,660.6 1214.2,659.7 1213.7,658.2 1214.2,657.4 1215.5,656.5 1216.4,656.3 1218.7,656.7 1219.1,657.4 1219.8,657.4 1220.3,657.8 1221.8,658 1222.3,658.6 1224.4,658.6 1226,659.1 1227.6,659.7 1228.2,659.9 1229.5,659.3 1230.1,658.8 1231.5,658.6 1232.6,658.9 1233.1,659.9 1233.4,659.1 1234.7,659.7 1236,659.8 1236.8,659.3 1237.7,662.5 1237.3,663.2 1236.9,664.7 1236.6,665.6 1236.1,666 1235.7,665.3 1234.9,664.5 1233.8,661.7 1233.6,661.9 1234.2,664 1235.2,665.8 1236.5,668.7 1237.1,669.6 1237.6,670.6 1239,672.6 1238.7,672.7 1238.7,674 1240.6,675.5 1240.9,675.9 1241.4,677.6 1241,677.9 1241.2,679.7 1241.9,681.7 1242.5,682 1243.3,682.7 1244.2,684.7 1244.7,686.2 1245.5,687.1 1247.7,688.6 1248.5,689.6 1249.5,690.5 1250,691 1250.8,691.5 1251.1,692 1251.1,692.7 1250.1,693.2 1250.8,693.5 1251.4,693.8 1251.7,694.5 1252.3,695.3 1253.1,695.3 1254.7,694.8 1256.3,694.7 1257.7,694.2 1258.5,694 1259.2,693.7 1260,693.7 1260.6,693.7 1261.2,693.3 1262.2,693.2 1262.8,692.7 1263.5,692.7 1263.5,693.2 1263.3,694 1263.3,695 1263,695.5 1262.7,697.3 1261.9,699.1 1260.9,701.2 1259.5,703.6 1258.1,705.3 1256.3,707.4 1254.7,708.9 1252.3,710.3 1250.8,711.6 1249,713.5 1248.7,714.3 1248.4,714.8 1247.3,715.5 1246.8,716.1 1246.3,716.3 1246,717.4 1245.5,718 1245.2,719 1244.6,719.7 1243.8,721.6 1243.9,722.6 1244.9,723 1245,723.5 1244.6,724.5 1244.7,725 1244.6,725.8 1245,726.8 1245.7,728.4 1246.3,728.7 1246.6,729.5 1246.5,731.2 1246.8,732.5 1246.8,735.1 1247.1,736 1246.6,737.1 1246,738.3 1245,739.3 1243.4,740 1241.7,740.8 1240,742.7 1239.3,742.8 1238.2,744.2 1237.6,744.5 1237.4,745.7 1238.2,747.1 1238.5,748 1238.5,748.5 1238.8,748.5 1238.7,750.2 1238.5,750.9 1238.8,751.3 1238.7,752 1237.9,752.7 1236.6,753.2 1234.7,754.3 1234.1,754.8 1234.2,755.5 1234.6,755.7 1234.4,756.6 1234.1,758.1 1233.9,759.5 1233.4,760.4 1232.3,761.3 1232,761.5 1231.4,762.5 1230.9,763.4 1230.1,764.7 1228.2,766.8 1227.1,767.9 1226,768.7 1224.2,769.4 1223.4,769.6 1223.3,770 1222.3,769.8 1221.5,770.2 1219.8,769.8 1218.8,770 1218.2,770 1216.4,770.8 1215.2,771 1214.2,771.8 1213.4,771.8 1212.8,771.2 1212.3,771 1211.5,770.2 1211.5,770.4 1211.2,770 1211.4,768.9 1210.7,767.5 1211.2,767.1 1211.2,765.8 1210.3,763.9 1209.5,762.5 1208.2,760.1 1207.1,758.6 1206.4,757.3 1206.1,755.5 1205.6,754.3 1205.2,751.6 1205.2,749.5 1205,748.5 1204.4,747.8 1203.6,746.4 1202.6,744.4 1201.7,742.7 1200.9,740.3 1200.7,739.3 1201,737.8 1201.5,736.3 1201.7,735.5 1202.2,734 1202.5,733.3 1203.4,732.3 1203.9,731.5 1204.1,730.4 1204.1,729.4 1203.6,728.9 1202.8,726.9 1202.8,726.5 1203.3,726 1202.8,724.3 1202.5,723.2 1201.7,722.2 1201.8,721.9 1201.7,721.4 1201.2,720.1 1199.9,718.5 1198.3,716.9 1197.2,715.5 1196.3,713.9 1196.3,713.4 1196.6,712.9 1197.1,711.6 1197.4,710.5 1197.9,710.3 1197.5,708.4 1197.9,707.1 1197.2,706.2 1196.4,705.8 1196.1,705 1195.8,704.9 1195.8,704.4 1194.2,705 1193.6,704.9 1192.9,705.3 1191.7,705.2 1190.9,704.2 1190.2,703.1 1189.1,702 1188,702 1186.6,702 1185.3,702.3 1184,702.6 1181.5,703.6 1180.6,704.1 1179.2,704.5 1177.7,704.1 1175.9,703.7 1175,703.7 1173.1,704.1 1170.4,705.2 1170.1,705 1169.6,705 1168,704.4 1166.6,703.1 1165.1,702.3 1164.2,701.2 1163.7,701 1162.6,700.3 1161.8,699.5 1161.5,698.9 1161.3,697.8 1162.1,697.1 1161.3,696.8 1160.5,696.8 1159.9,696.1 1159.6,696 1159.1,695.6 1159,694.8 1158.8,694.5 1158.3,694.3 1157.4,693.5 1156.7,693.5 1156.4,693 1156.4,692.8 1155.9,692.4 1155.8,692 1155.6,690.7 1155.8,690.1 1155.1,688.7 1154.3,688.2 1155,687.9 1155.8,686.7 1156.1,685.9 1156.1,684.9 1156.4,684.1 1156.7,682.5 1156.4,680.8 1156.3,680 1156.4,679.1 1156.1,678.3 1155.1,677.6 1155.3,676.9 1155.3,676 1155.9,675.5 1156.4,674.7 1156.4,674.1 1156.9,672.9 1157.8,671.7 1158.3,671.5 1158.8,670.4 1158.8,669.6 1159.4,668.3 1160.4,667.8 1161.5,666 1162.3,665.2 1163.7,665.1 1165,663.8 1165.8,663.2 1167.1,661.7 1166.7,659.3 1167.4,657.8 1167.5,656.7 1168.5,655.5 1170.1,654.6 1171.3,653.8 1172.5,651.8 1172.9,650.5Z"/>
<path fill="url(#dt)" d="M1172.9,650.5 1174,650.5 1175,651.4 1176.6,651.3 1178.8,651.6 1179.4,653 1179.6,654.2 1180.1,656.1 1180.6,656.5 1180.2,657.2 1178.2,657.6 1177.4,658.4 1176.6,658.6 1176.4,659.9 1174.5,660.6 1174,661.6 1172.6,662.1 1171,662.3 1168.5,663.8 1168.5,665.8 1168.5,666.3 1168.5,668.8 1163.2,668.8 1163.2,673.3 1161.7,674.1 1161.5,674.5 1161.7,677.1 1155.3,676.9 1155.1,677.6 1155.3,676.9 1155.3,676 1155.9,675.5 1156.4,674.7 1156.4,674.1 1156.9,672.9 1157.8,671.7 1158.3,671.5 1158.8,670.4 1158.8,669.6 1159.4,668.3 1160.4,667.8 1161.5,666 1162.3,665.2 1163.7,665.1 1165,663.8 1165.8,663.2 1167.1,661.7 1166.7,659.3 1167.4,657.8 1167.5,656.7 1168.5,655.5 1170.1,654.6 1171.3,653.8 1172.5,651.8 1172.9,650.5Z"/>
<path fill="#08978c" d="M1178.8,651.6 1180.4,650.7 1182.1,650.3 1183.1,649.5 1184.7,648.9 1187.4,648.5 1189.9,648.3 1190.7,648.7 1192.3,647.9 1193.9,647.9 1194.5,648.3 1195.6,648.3 1195.3,649.3 1195.6,651.1 1195.2,652.6 1194.2,653.8 1194.4,655.3 1195.6,656.5 1195.6,656.9 1196.8,657.6 1197.4,661 1197.9,662.7 1198,663.5 1197.7,665.1 1197.9,665.8 1197.5,666.9 1197.7,667.9 1197.1,668.7 1198,669.9 1198,670.8 1198.7,671.7 1199.5,671.3 1200.7,672.2 1201.4,673.3 1196,676.6 1191.4,680 1189.1,680.7 1187.4,680.8 1187.2,679.8 1186.6,679.5 1185.6,679.1 1185.2,678.3 1179.8,674.5 1174.5,670.7 1168.5,666.3 1168.5,665.8 1168.5,663.8 1171,662.3 1172.6,662.1 1174,661.6 1174.5,660.6 1176.4,659.9 1176.6,658.6 1177.4,658.4 1178.2,657.6 1180.2,657.2 1180.6,656.5 1180.1,656.1 1179.6,654.2 1179.4,653 1178.8,651.6ZM1221.8,658 1222.3,658.6 1224.4,658.6 1226,659.1 1227.6,659.7 1228.2,659.9 1229.5,659.3 1230.1,658.8 1231.5,658.6 1232.6,658.9 1233.1,659.9 1233.4,659.1 1234.7,659.7 1236,659.8 1236.8,659.3 1237.7,662.5 1237.3,663.2 1236.9,664.7 1236.6,665.6 1236.1,666 1235.7,665.3 1234.9,664.5 1233.8,661.7 1233.6,661.9 1234.2,664 1235.2,665.8 1236.5,668.7 1237.1,669.6 1237.6,670.6 1239,672.6 1238.7,672.7 1238.7,674 1240.6,675.5 1240.9,675.9 1234.6,675.9 1228.4,675.9 1222,675.9 1222,669.4 1222,663 1221.5,661.6 1221.9,660.3 1221.7,659.5 1221.8,658ZM1186.6,702 1188,702 1189.1,702 1190.2,703.1 1190.9,704.2 1191.7,705.2 1192.9,705.3 1193.6,704.9 1194.2,705 1195.8,704.4 1196.3,703.3 1196.9,701.8 1197.4,701.6 1198.3,700.8 1199,700.7 1199.9,701.5 1200.9,700.8 1201,700.2 1201.5,699.5 1201.7,698.7 1202.6,698.1 1202.9,696.9 1203.3,696.6 1203.4,695.6 1203.9,694.7 1205.2,693.3 1205.5,692.5 1204.9,691.9 1204.9,691.4 1204.5,691.9 1203.4,690.1 1203.1,690.1 1201.8,691 1200.6,690.5 1199.8,690.4 1199.3,690.7 1198.3,690.5 1197.4,691.2 1196.6,691.4 1194.7,690.5 1193.9,690.9 1193.1,690.9 1192.5,690.2 1190.9,689.6 1189.3,689.9 1188.8,690.2 1188.6,691.1 1188.2,691.7 1188,693.2 1188,693.8 1188.3,694.8 1188,695.5 1188.2,695.8 1187.4,696.9 1186.9,697.4 1186.6,698.4 1186.6,699.4 1186.6,702Z"/>
<path fill="#c05a1a" d="M1247.4,713.5 1248.4,714.8 1247.3,715.5 1246.8,716.1 1246.3,716.3 1246,717.4 1245.5,718 1245.2,719 1244.6,719.7 1242.3,718 1242.2,717.1 1236.5,713.9 1236.1,713.6 1236.1,711.9 1236.6,711.3 1237.4,710.2 1237.9,709 1237.3,707.1 1237.1,706.3 1236.3,705.3 1237.3,704.4 1238.4,703.3 1239.2,703.6 1239.2,704.4 1239.8,705 1240.9,705 1242.8,706.3 1243.3,706.3 1243.8,706.3 1244.1,706.5 1245.2,706.6 1245.7,706 1247.1,705.2 1247.7,705.8 1248.8,705.8 1247.4,707.6 1247.4,713.5Z"/>
<path fill="#08978c" d="M1234.4,726.9 1235,727.8 1235.5,729.1 1235.2,729.5 1234.9,730.9 1235.2,732.2 1234.7,732.8 1234.2,734.3 1235,734.8 1230.3,736.1 1230.4,737.3 1229.2,737.5 1228.2,738.1 1228,738.8 1227.6,739 1226.1,740.3 1225.2,741.3 1224.7,741.4 1224.2,741.2 1222.5,741 1222.2,741 1222.2,740.8 1221.5,740.5 1220.4,740.3 1219.1,740.6 1218.2,739.6 1217.1,738.3 1217.1,733 1220.4,733 1220.3,732.5 1220.6,731.8 1220.3,731 1220.4,730.2 1220.3,729.7 1220.9,730.4 1221.7,730.2 1222.6,730.4 1223.3,731.2 1224.5,731.3 1225.5,730.9 1225.8,731.7 1227.1,732 1227.6,732.7 1228.2,733.5 1229.5,733.7 1229.3,731.8 1228.8,732.2 1227.7,731.5 1227.4,731.2 1227.6,729.5 1227.9,727.6 1227.4,726.9 1227.9,725.8 1228.4,725.6 1230.4,725.3 1231.1,725.5 1231.9,726 1232.5,726.3 1233.4,726.4 1234.4,726.9ZM1200.9,740.3 1201.7,742.7 1202.6,744.4 1203.6,746.4 1204.4,747.8 1205,748.5 1205.2,749.5 1205.2,751.6 1205.6,754.3 1206.1,755.5 1206.4,757.3 1207.1,758.6 1208.2,760.1 1209,759.1 1209.6,759.7 1209.9,760.4 1210.6,760.6 1211.7,760.8 1212.5,760.7 1213.9,759.9 1213.9,753.2 1213.9,748 1215.5,748 1215.5,742 1216.8,741.8 1219.1,741.3 1219.8,742 1220.7,741.3 1221.2,741.3 1222.2,740.8 1222.2,741 1221.5,740.5 1220.4,740.3 1219.1,740.6 1216.3,741.3 1212.4,741.2 1211.4,740.3 1204.9,740.5 1204.7,740.5 1203.7,739.8 1202.6,739.6 1201.7,740 1200.9,740.3ZM1213.9,753.2 1214.4,753.4 1215.3,755.2 1215.2,756.3 1215.5,756.8 1216.6,756.6 1217.4,755.9 1218.2,755.4 1218.5,754.5 1219.3,754.1 1219.9,754.3 1220.7,754.8 1222,754.8 1223.1,754.5 1223.4,753 1224.4,752.9 1224.9,752.2 1225.3,751.1 1226.8,749.7 1229,748.5 1228,747.6 1226.8,747.5 1226.3,746.4 1226.3,745.7 1225.7,745.6 1223.9,743.7 1223.4,742.7 1223,742.3 1222.5,741 1222.2,741 1222.2,740.8 1221.2,741.3 1220.7,741.3 1219.8,742 1219.1,741.3 1216.8,741.8 1215.5,742 1215.5,748 1213.9,748 1213.9,753.2Z"/>
<path fill="url(#dt)" d="M1208.2,760.1 1209.5,762.5 1210.3,763.9 1211.2,765.8 1211.2,767.1 1210.7,767.5 1211.4,768.9 1211.2,770 1211.5,770.4 1211.5,770.2 1212.3,771 1212.8,771.2 1213.4,771.8 1214.2,771.8 1215.2,771 1216.4,770.8 1218.2,770 1218.8,770 1219.8,769.8 1221.5,770.2 1222.3,769.8 1223.3,770 1223.4,769.6 1224.2,769.4 1226,768.7 1227.1,767.9 1228.2,766.8 1230.1,764.7 1230.9,763.4 1231.4,762.5 1232,761.5 1232.3,761.3 1233.4,760.4 1233.9,759.5 1234.1,758.1 1234.4,756.6 1233.3,756.6 1233.1,755.9 1232.8,755 1232.8,754.5 1233,752.5 1231.9,748.8 1231.1,748.7 1229,748.5 1226.8,749.7 1225.3,751.1 1224.9,752.2 1224.4,752.9 1223.4,753 1223.1,754.5 1222,754.8 1220.7,754.8 1219.9,754.3 1219.3,754.1 1218.5,754.5 1218.2,755.4 1217.4,755.9 1216.6,756.6 1215.5,756.8 1215.2,756.3 1215.3,755.2 1214.4,753.4 1213.9,753.2 1213.9,759.9 1212.5,760.7 1211.7,760.8 1210.6,760.6 1209.9,760.4 1209.6,759.7 1209,759.1 1208.2,760.1Z"/>
<path fill="#275f87" d="M1228.3,760.7 1228.8,761.3 1228.4,762.1 1228,762.8 1227.2,763 1226.9,763.6 1226.3,763.8 1225.2,762.5 1226,761.2 1226.9,760.6 1227.6,760.1 1228.3,760.7ZM1233.3,756.6 1233,757.5 1232,757.7 1231.1,756.6 1231.1,756.1 1231.5,754.8 1232,754.8 1232.8,755 1233.1,755.9 1233.3,756.6ZM1260.9,732.3 1261.4,733 1261.9,734.1 1262,736.1 1262.5,736.8 1262.3,737.6 1262,738.1 1261.6,737.1 1261.2,737.6 1261.6,739 1261.4,739.6 1260.9,740 1260.8,741.5 1260.1,743.4 1259.3,745.7 1258.4,749 1257.7,751.5 1257.1,753.4 1254.4,754.6 1253.5,754.1 1252.2,753.6 1251.9,752.7 1251.7,751.1 1251.1,749.7 1251.1,748.5 1251.2,747.1 1252,746.9 1252,746.3 1252.8,745.1 1253,743.9 1252.5,743.1 1252.2,742 1252.1,740.5 1252.7,739.6 1252.8,738.5 1253.6,738.5 1254.6,738.1 1255.2,737.8 1255.8,737.8 1256.8,736.8 1258.1,735.8 1258.5,735 1258.4,734.3 1259,734.5 1259.8,733.3 1260,732.3 1260.4,731.5 1260.9,732.3Z"/>
<path fill="#aa501a" d="M1363.5,748 1367.6,746.1 1371.3,744.9 1374.5,744.2 1376.5,741.8 1376.5,740.3 1378.6,740.1 1379.1,738.8 1379.9,738.5 1381.1,736 1382.6,735.1 1384.2,734.5 1386.2,736.3 1388.1,736.4 1387.8,735.5 1389.7,732.3 1390.7,731.8 1392.9,731.7 1392.9,730.9 1391.6,730.4 1393.5,730.5 1397.2,731.8 1399.1,731.3 1399.8,732.2 1398.8,733.7 1398.2,733.7 1397.3,736 1397.5,736.5 1398.8,737.5 1400,738 1402,739.5 1403.2,740 1403.5,740.5 1405,741 1406.1,740.5 1406.7,738.8 1407.4,736.5 1407,734.3 1407.4,733 1407.5,732.7 1407.4,732.2 1408,730.4 1408.6,729.4 1409.1,730.2 1409.3,731.2 1409.7,732 1410.4,734.5 1410.8,735.6 1412,735.1 1413.2,736.4 1413.1,737.1 1413.4,738.6 1414.5,741.2 1414.3,742 1414.8,743.1 1416.6,744 1418.6,745.6 1419.4,747.1 1420.1,748.8 1420.7,748.5 1421.3,749.4 1421.6,749 1422,750.9 1423.1,752 1423.9,752.7 1425.1,754.1 1425.5,755.5 1425.6,756.4 1425.5,757.7 1426.3,759.1 1426.1,760.8 1425.8,761.7 1425.5,763.4 1425.5,764.3 1425.1,765.6 1424.5,767.5 1423.2,768.3 1422.6,769.8 1422.1,770.8 1421.6,772.6 1421,773.5 1420.7,774.9 1420.4,776.3 1420.5,776.9 1419.6,777.7 1417.8,777.7 1416.4,778.6 1415.6,779.4 1414.7,780.2 1413.4,779.4 1412.4,779 1412.6,778 1411.8,778.4 1410.4,779.8 1408.9,779.2 1408.1,779 1407.2,778.8 1405.6,778.2 1404.6,776.9 1404.3,775.3 1404,774.1 1403.2,773.5 1401.6,773.3 1402.1,772.4 1401.8,771 1401,772.4 1399.6,772.8 1400.5,771.6 1400.7,770.4 1401.3,769.4 1401.2,768.1 1399.9,769.8 1398.9,770.4 1398.3,772 1397,771.2 1397,770 1396.1,768.7 1395.3,767.9 1395.6,767.5 1393.5,766.4 1392.4,766.3 1390.8,765.4 1388,765.6 1385.9,766.2 1384.2,767 1382.6,766.8 1381,767.7 1379.6,768.2 1379.2,769.2 1378.8,770 1376.4,770.2 1375,769.8 1372.7,770.2 1371.8,771.2 1371.3,771.2 1369.7,772.4 1367.5,772.2 1365.9,771 1364.9,770.6 1364.9,769.4 1365.7,769.2 1366.1,768.9 1366.1,768.1 1366.2,766.8 1366.1,765.6 1365.3,763.8 1364.9,762.6 1364.9,761.7 1364.3,760.4 1364.3,759.9 1363.7,759.1 1363.4,757.7 1362.6,756.3 1362.2,755.5 1363,756.3 1362.4,754.6 1363.2,755.2 1363.7,755.9 1363.7,755 1362.9,753.6 1362.7,753 1362.4,752.5 1362.6,751.5 1362.9,751.1 1363,749.2 1363.5,748ZM1413.2,784 1414.8,784.6 1415.6,784.4 1416.9,784 1417.8,784.2 1418,786.8 1417.4,787.4 1417.2,789.2 1416.7,788.5 1415.6,790 1415.3,790 1414.2,789.8 1413.2,788.1 1413.1,786.5 1412.1,784.8 1412.1,783.8 1413.2,784Z"/>
<path fill="url(#dt)" d="M1457.1,771.2 1458,772.2 1459.1,772.8 1459.6,774.5 1460.7,776.5 1460.9,775.1 1461.5,775.7 1461.8,777.3 1463.1,778 1464.1,778.1 1465,777.3 1465.8,777.5 1465.5,779.4 1465,780.6 1463.7,780.4 1463.3,781 1463.4,782.1 1463.3,782.5 1462.6,783.6 1461.8,785 1460.6,785.9 1460.4,785.3 1459.8,785 1460.6,783.3 1460.1,782.1 1458.3,781.2 1458.5,780.4 1459.6,779.8 1459.8,778.2 1459.8,776.9 1459.1,775.5 1459.1,775.1 1458.3,774.3 1457.2,772.6 1456.4,771.2 1457.1,771.2ZM1451.8,790 1453.1,788.7 1454,787.6 1454.8,786.1 1455.3,785.5 1455.6,784.3 1456.7,783.3 1457.1,784.2 1457.4,785 1458.6,784.2 1459,785 1459,786.1 1458.5,787 1457.4,788.7 1456.6,789.6 1457.2,790.7 1456,790.7 1454.7,791.4 1454.2,793 1453.3,795.2 1452,796.4 1451.2,796.9 1449.8,796.9 1448.8,796.2 1447.1,795.9 1446.7,795.2 1447.5,793.4 1449.6,791.2 1450.6,790.7 1451.8,790Z"/>
<path fill="none" stroke-width="1.3" d="M1091.6,702.5 1091.3,703.9 1090.3,704.4 1090.3,704.7 1090.2,705.5 1090.8,706.8 1091.3,706.8 1091.5,707.6 1092.6,708.9M1096.6,702.8 1095.7,704.2 1095.9,705.3 1096.5,706.3 1096.2,707 1096.1,707.8 1095.7,708.4M1040.6,683 1040.6,686.2 1041.1,686.2M1271.2,639.2 1270.4,639.2 1269.3,637.7 1268.2,637 1266.3,637.4 1265.7,638.1M1271.2,639.2 1271.2,631 1275.2,629.6 1279.3,632.4 1280.8,634.4 1282.7,633.9 1285.4,633.9 1287.3,635.5 1287.1,637.7 1287.9,637.7 1288.2,639.4 1290.3,639.6 1290.8,640.4 1291.3,640.4 1292,638.9 1294.1,637.4 1295,637 1295.4,636.1 1296.3,635.9 1299,636.6 1299.2,635.3 1300.1,634.8 1302.4,635.7 1303,635.5 1305.7,635.6 1307.9,635.7 1308.7,636.6 1309.8,637M1309.8,637 1309.7,635.7 1310.8,635 1309.3,631.2 1312.4,630.3 1313.3,629.9 1314.4,625.7 1317.6,626.4 1318.4,625.2 1318.6,622.8 1319.8,622.8 1321.1,621.1M1271.2,639.2 1273,639.2 1272.7,638.1 1274.1,637.2 1275.4,635.9 1277.6,637.2 1277.8,638.9 1278.4,639.4 1280,639.2 1280.6,639.6 1281.4,641.7 1283.2,643.2 1284.3,644.2 1285.9,645.2 1287.9,646.1 1287.9,647.3 1288.9,647.3 1290,647.9 1290.5,648.1 1291.7,647.5 1292.2,647.7 1292.7,646.9 1293.6,646.9 1294,646.7 1294.1,645.8 1294.7,645 1295.5,645.4 1295.4,646.1 1295.9,646.2 1295.7,647.9 1296.3,648.7 1297,648.3 1297.6,648.1 1298.7,647.1 1299.7,647.3 1301.4,647.3M1309.8,637 1307,638.5 1306.5,639.4 1304.4,639.6 1303.8,641.1 1302.2,640.6 1301.1,641.1 1299.5,642.1 1299.8,642.5 1299.4,643.2 1299.7,645 1300.3,644.8 1301.3,645.2 1301.1,646.1 1301.4,647.3M1295,637 1294.1,638.7 1295.5,639.6 1296.5,638.9 1298.4,640 1296.3,641.7 1295.1,641.5 1294.4,641.5 1294.3,640.9 1294.6,639.9 1292.4,640.4 1291.9,641.7 1291.1,643 1289.8,642.7 1289.3,643.8 1290.6,644.2 1290.9,645.6 1290,647.9M1299.4,643.2 1296.3,643.4 1294.3,642.7 1292.7,643 1292.7,641.7 1294.4,641.5M1279.5,650.7 1281.1,651.4 1282.4,651.3 1282.7,650.3 1283.9,650.1 1284.7,649.5 1285.1,647.9 1286.5,647.5 1286.6,646.7 1287.4,647.3 1287.9,647.3M1321.7,620.9 1322.1,622.6 1323.5,623.8 1325.7,624.7 1326.8,626.6 1326.2,629.4 1326.8,630.3 1328.6,630.8 1330.8,631.1 1332.7,632.4 1333.7,632.8 1334.5,634.8 1335.2,636.1 1337.2,636.1 1340.3,636.6 1342.4,636.1 1344,636.6 1346.4,637.9 1348.3,637.9 1349,638.5 1350.8,637.4 1353.4,636.6 1355.7,636.6 1357.6,635.7 1358.8,634.6 1359.9,633.9 1359.7,633 1359.1,632.1 1360,630.8 1360.8,631 1364.2,630.3 1366.5,629.4 1367.6,627.8 1368.8,627.1 1371.1,626.9 1372.4,627.1 1372.6,626.4 1371.1,624.7 1369.9,623.8 1368.6,624.7 1367,624.3 1366.1,624.7 1365.7,623.8 1366.9,621.3 1367.6,619.4M1343,676.9 1343,676.2 1341.8,676.6 1341.1,676.4 1339.9,675.7 1340.3,674.3 1339.4,674 1339.1,672.2 1337.3,672.6 1337.5,670.4 1339.1,669 1339.1,666.1 1338.3,665.8 1337.8,664.7 1336.8,664.7M1379.7,642.1 1381,640.6M1356.5,708.9 1356.7,710 1357.8,710.8 1358.9,710.5 1359.9,710.7 1360.8,709.9 1361.6,709.7 1363,710.2 1364.3,709.9 1365.1,707.6 1365.7,707 1366.4,705.2 1368.1,705.2 1369.6,705.5M1200.6,655.7 1200.4,657.1 1199.6,657.6 1199.1,658.2 1198.1,658.9 1198.3,659.8 1198.1,660.6 1197.4,661M1195.6,648.3 1195.3,649.3 1195.6,651.1 1195.2,652.6 1194.2,653.8 1194.4,655.3 1195.6,656.5 1195.6,656.9 1196.8,657.6 1197.4,661M1197.4,661 1197.9,662.7 1198,663.5 1197.7,665.1 1197.9,665.8 1197.5,666.9 1197.7,667.9 1197.1,668.7 1198,669.9 1198,670.8 1198.7,671.7 1199.5,671.3 1200.7,672.2 1201.4,673.3 1203.9,674.1 1204.7,675 1206,674.3 1206.3,677.1 1206.9,677.6 1207.6,673.4 1213.7,676.7 1220.1,680 1220.3,679.3 1222,679.3 1222,675.9M1222,675.9 1228.4,675.9 1234.6,675.9 1240.9,675.9M1155.3,676.9 1161.7,677.1 1161.5,674.5 1161.7,674.1 1163.2,673.3 1163.2,668.8 1168.5,668.8 1168.5,666.3 1174.5,670.7 1172,670.7 1173.6,685.6 1173.9,685.7 1173.6,686.9 1167.1,686.9 1165.3,687.6 1164.4,687.1 1163.6,688.1 1162.9,688.4 1162,687.2 1161,686.1 1159.9,685.6 1159.1,685.1 1158.3,685.1 1157.5,685.4 1156.7,685.2 1156.1,685.9M1187.4,680.8 1189.1,680.7 1189.1,684.6 1188,686.7 1186.6,687.1 1184.5,687.2 1182.9,687.9 1181.8,687.9 1181.5,687.6 1180.6,687.8 1179.1,688.4 1178.8,689.1 1177.6,689.7 1177.4,690.2 1176.7,690.5 1175.9,690.2 1175.5,690.7 1175.3,691.9 1174,693.2 1174,693.7 1173.6,694.4 1173.7,695.3 1173.1,695.6 1172.6,695.8 1172.5,695.1 1172,695.3 1171.7,695.3 1171.3,695.8 1170.2,695.8 1169.8,695.5 1169.6,695.6 1169.1,695.1 1169.1,694.7 1169,694.5 1168.6,694.7 1168.6,694.2 1169,693.7 1168.3,693 1168.2,692.5 1167.8,692.2 1167.5,692.2 1167.1,692.4 1166.6,692.5 1166.1,693 1165.5,692.9 1165,692.4 1164.8,692.4 1164.4,692.5 1164,692.5 1164,692 1164,691.4 1163.9,690.9 1163.4,690.4 1163.1,689.4 1162.9,688.4M1201.4,673.3 1203.9,674.1 1204.7,675 1206,674.3 1206.3,677.1 1206.9,677.6 1206.9,678.1 1207.6,678.6 1207.2,679.4 1206.6,682.9 1206.4,685.1 1204.5,686.6 1203.7,688.7 1204.5,689.4 1204.5,690.4 1205.5,690.5 1205.3,691.2 1204.9,691.4M1185.8,692.9 1185.3,693.3 1184.5,693.5 1184.2,694.2 1183.7,694.3 1182.3,694.3 1181.7,694.2 1181,694.5 1180.4,694.3 1177.7,694.4 1177.6,695.3 1177.9,696.6 1176.7,696.1 1176,696.1 1175.5,696.6 1174.7,696.3 1174.4,695.6 1173.7,695.3M1182.9,687.9 1182.8,688.7 1182.9,689.4 1183.9,690.5 1183.9,691.2 1185.8,691.7 1185.8,692.9 1186.3,692.4 1186.7,692.4 1188,693.2M1186.6,702 1186.6,699.4 1186.6,698.4 1186.9,697.4 1187.4,696.9 1188.2,695.8 1188,695.5 1188.3,694.8 1188,693.8 1188,693.2M1185.3,702.3 1184.8,701.2 1185,697.4 1184.7,697.1 1184.5,696.3 1184,695.6 1183.6,695.1 1183.7,694.3M1184,702.6 1183.6,702 1183.3,701 1183.1,700.2 1183.4,698.7 1183.1,698.1 1182.9,696.8 1182.9,695.6 1182.2,694.8 1182.3,694.3M1177.7,704.1 1177.9,703.4 1177.2,702 1178.2,698.9 1177.6,695.3M1170.1,705 1170.2,703.7 1170.4,703.6 1170.2,702.9 1169.6,702.3 1169.1,702.1 1168.6,701.6 1169,701 1168.8,700.2 1169,699.7 1169.1,699.7 1169.3,699.1 1169.1,698.7 1169.3,698.4 1169.9,698.2 1169.4,696.9 1169.1,696.3 1169.3,695.8 1169.6,695.6M1161.3,697.8 1162.1,697.1 1162.3,696.6 1162.6,696.3 1162.9,696.1 1163.4,696 1164.7,696 1165.1,696.4 1165.5,697.1 1165.6,698.1 1165.6,698.7 1166.1,698.6 1166.4,698.6 1166.7,698.4 1167.5,699.4 1168.2,700.3 1168.5,699.7 1169,699.7M1164.2,701.2 1164.5,700.7 1165.3,699.4 1166.1,698.6M1155.8,690.1 1157.5,690.1 1157.8,689.6 1158.3,689.6 1159,690.1 1159.4,690.1 1160.1,689.7 1160.4,690.2 1159.6,690.5 1159,690.5 1158.3,690.2 1157.7,690.5 1157.4,690.5 1157,690.9 1155.6,690.7M1155.8,692 1157.7,691.7 1160.5,691.7 1160.5,692.4 1160.4,692.5 1160.5,693 1159.4,693.5 1159,693.5 1158.3,694.3M1160.5,691.7 1161.3,691.7 1162.4,692.2 1162.8,692 1162.9,691.9 1163.7,692 1164,692M1220.3,679.3 1220.1,680 1220.3,686.7 1218.8,686.6 1218.2,687.9 1217.7,688.9 1218,689.2 1217.6,689.7 1217.7,690.4 1217.1,691.7 1217.7,691.7 1218,692.2 1218,693.2 1218.7,693.7 1218.7,694.2 1217.6,694.4 1216.8,695 1215.7,696.8 1214.2,697.6 1212.6,697.4 1212.2,697.6 1212.3,698.2 1211.5,698.7 1210.8,699.4 1208.8,700 1208.5,699.7 1208.2,699.5 1207.9,700 1206.6,700.2 1206.8,699.7 1206.1,698.6 1205.3,697.6 1204.5,696.8 1204.9,696 1205.5,696.1 1206,696 1206.9,696 1206,694.5 1206.1,693.3 1206,692.4 1205.3,691.2M1220.3,698.2 1221.4,698.9 1222.2,699.5 1222.2,700 1223.3,700.9 1223.9,701.6 1224.4,702.6 1225.5,703.1 1225.8,703.7 1226.7,705 1227.4,705.2 1227.9,704.9 1228.7,705 1229.5,704.7 1229.9,705.3 1231.2,706.5 1231.2,706.5 1231.9,706 1233,706.3 1234.2,706 1235.3,706 1236.3,705.3 1236.3,705.3M1220.3,698.2 1220.1,698.1 1221.4,698.9 1220.3,698.2 1219.6,697.7 1219.5,697.1 1219.8,696.4 1219.8,695.8 1218.8,694.8 1218.7,694.2M1220.3,698.2 1220.7,698.1 1221.2,697.8 1221.7,696.3 1222.2,695.5 1223.3,695.3 1223.5,695.8 1224.4,696.6 1224.9,696.8 1225.3,696.6 1226.5,696.6 1226.7,696.9 1228.3,696.9 1228.4,696.6 1229.2,696.3 1229.3,695.8 1229.9,695.5 1231.2,696.4 1232.2,696.3 1233,695.1 1233.8,694.2 1233.6,693.2 1233.3,692.7 1234.2,692.7 1234.2,692.4 1235,692.4 1234.9,693.7 1235,694.8 1235.8,695.5 1236,696.8 1236.2,696.8 1236.3,698.1 1236,698.6 1235.2,698.6 1234.6,699.5 1235.7,699.7 1236.5,700.5 1236.8,701.2 1237.4,701.5 1238.4,703.3M1240.9,675.9 1241.4,677.6 1241,677.9 1241.2,679.7 1241.9,681.7 1242.5,682 1243.3,682.7 1242.5,683.7 1241.4,683.9 1240.9,684.5 1240.7,685.6 1240,688.1 1240.1,688.7 1240,690.1 1239.3,691.7 1238.4,692.5 1237.6,693.8 1237.4,694.5 1236.8,695 1236.2,696.6 1236.2,696.8M1240,688.1 1240.1,688.7 1242,689.1 1242.5,687.8 1243.4,688.6 1244.4,688.2 1244.7,688.6 1245.8,688.6 1247.3,689.2 1247.7,689.7 1248.4,690.2 1249,691.2 1249.6,691.9 1250,691M1248.8,705.8 1249.2,705.3 1250.3,705.2 1251.7,704.1 1253.7,704.1 1258.2,699.2 1259.3,697.9 1260,696.8 1260,693.7M1249.6,691.9 1250.3,691.9 1250.8,691.5 1250.3,694.5 1250,694.2 1249.5,694.3 1248.7,694.2 1248.5,693.3 1249,692.5 1249.6,691.9M1250.3,694.5 1251.1,696.8 1252.2,697.6 1256.8,699.2 1258.2,699.2M1236.1,713.6 1233,713.7 1231.2,713.7 1230.6,713.9 1229.6,714.3 1229.3,714.2 1229.3,713.1 1229.6,712.4 1229.8,711.1 1230.1,710.3 1230.7,709.5 1231.4,709.2 1231.9,708.6 1231.2,708.4 1231.2,706.5M1205.3,704.5 1206.1,705.3 1206.1,705.8 1206.8,706.8 1207.6,707.3 1207.6,707.9 1207.7,708.4 1208.5,707 1209.5,706.2 1210.6,706.3 1211.7,706.5 1211.7,705.3 1212.3,704.5 1213.3,704.1 1214.5,704.5 1215.5,705.2 1216.8,705.3 1217.9,705.7 1218.4,704.7 1218.5,704.5 1219.3,704.7 1221.1,703.9 1221.7,704.2 1222.2,704.2 1222.5,703.7 1223.1,703.6 1224.2,703.7 1225.2,703.9 1225.8,703.7M1205.3,691.2 1206,692.4 1206.1,693.3 1206,694.5 1206.9,696 1206,696 1205.5,696.1 1204.9,696 1204.5,696.8 1205.3,697.6 1206.1,698.6 1206.8,699.7 1206.6,700.2 1205.8,701.8 1205.3,702.1 1205.3,703.3 1205.5,704.1 1205.3,704.5 1206.1,705.3 1206.1,705.8 1206.8,706.8 1207.6,707.3 1207.6,707.9 1207.7,708.4 1207.6,709.4 1206.3,709 1205,708.6 1203.1,708.4 1202.9,708.4 1202,708.6 1201,708.4 1200.2,708.4 1197.5,708.4M1197.9,710.3 1200.2,710.3 1200.2,708.4 1201,708.4 1202,708.6 1202.9,708.4 1203.1,708.4 1203.4,710 1204.5,709.9 1205,710.2 1204.2,712.1 1205,713.1 1205.2,714.2 1205,715.3 1204.5,716.1 1203.1,716 1202.3,715.2 1202.2,716 1201,716.1 1200.6,716.6 1201.2,717.6 1199.9,718.5M1207.7,708.4 1208.5,707 1209.5,706.2 1210.6,706.3 1211.7,706.5 1211.5,707.4 1211,708.2 1210.7,709.4 1210.6,710.7 1210.6,711.6 1210.4,712.3 1210.3,712.7 1210.1,713.2 1209.1,714 1208.3,714.8 1207.7,716.4 1207.7,717.7 1207.4,718.4 1206.4,719 1205.5,720.1 1204.9,719.8 1204.7,719.3 1203.9,719.3 1203.4,720 1202.9,719.8 1202.3,719.2 1201.8,719.5 1201.2,720.1M1201.8,721.9 1202.5,721.7 1202.9,721.7 1203.6,721.6 1208.2,721.6 1208.7,722.7 1209.1,723.7 1209.5,724.2 1210.1,725.1 1211,725 1211.7,724.7 1212.5,725 1212.8,724.5 1213.1,723.7 1214.1,723.5 1214.2,723.2 1215,723.2 1214.9,723.9 1216.8,723.9 1216.8,724.8 1217.1,725.5 1216.9,726.4 1217.1,727.4 1217.6,728.1 1217.6,730 1217.9,729.9 1218.5,729.9 1219.6,729.7 1220.3,729.7 1220.4,730.2 1220.3,731 1220.6,731.8 1220.3,732.5 1220.4,733 1217.1,733 1217.1,738.3 1218.2,739.6 1219.1,740.6M1231.2,706.5 1231.2,708.4 1231.9,708.6 1231.4,709.2 1230.7,709.5 1230.1,710.3 1229.8,711.1 1229.6,712.4 1229.3,713.1 1229.3,714.2 1228.8,714.7 1228.8,715.6 1228.5,715.8 1228.4,716.6 1228.8,717.4 1228.8,719.3 1229.2,720.8 1229,721.6 1229.3,722.6 1230.3,723.5 1231.1,725.5 1230.4,725.3 1228.4,725.6 1227.9,725.8 1227.4,726.9 1227.9,727.6 1227.6,729.5 1227.4,731.2 1227.7,731.5 1228.8,732.2 1229.3,731.8 1229.5,733.7 1228.2,733.5 1227.6,732.7 1227.1,732 1225.8,731.7 1225.5,730.9 1224.5,731.3 1223.3,731.2 1222.6,730.4 1221.7,730.2 1220.9,730.4 1220.3,729.7M1230.6,713.9 1231.2,714.8 1231.2,715.8 1230.7,716 1230.7,716.6 1231.1,716.9 1231.2,717.6 1230.7,717.9 1230.1,718.7 1229.6,719.3 1228.8,719.3M1242.2,717.1 1236.5,713.9 1236.1,713.6 1231.2,713.7M1231.1,725.5 1231.9,726 1232.5,726.3 1233.4,726.4 1234.4,726.9 1235.8,727.3 1236.1,727.8 1236.8,728.6 1237.3,730.7 1238.4,730.5 1240.3,731 1240.7,730.9 1241.9,730.9 1242.3,730.4 1243.3,730.4 1245,729.7 1246.3,728.7M1237.3,730.7 1236.8,732 1237.3,734.1 1237.7,734.1 1238.4,734.6 1239,735.8 1239.2,738 1238.4,738.3 1237.9,739.5 1236.9,738.5 1236.8,737.3 1237.1,736.5 1237.1,735.8 1236.5,735.5 1236,735.6 1235,734.8 1234.2,734.3 1234.7,732.8 1235.2,732.2 1234.9,730.9 1235.2,729.5 1235.5,729.1 1235,727.8 1234.4,726.9M1235,734.8 1230.3,736.1 1230.4,737.3 1230.4,738 1231.9,738 1232.5,738.3 1233,738.6 1233.6,738.8 1234.4,739.3 1234.4,741.5 1234.2,742.7 1234.1,743.9 1234.4,744.4 1234.2,745.4 1233.9,745.6 1233.4,746.8 1231.9,748.8 1233,752.5M1222.5,741 1224.2,741.2 1224.7,741.4 1225.2,741.3 1226.1,740.3 1227.6,739 1228,738.8 1228.2,738.1 1229.2,737.5 1230.4,737.3M1229,748.5 1231.1,748.7 1231.9,748.8M1200.9,740.3 1201.7,740 1202.6,739.6 1203.7,739.8 1204.7,740.5 1204.9,740.5 1211.4,740.3 1212.4,741.2 1216.3,741.3 1219.1,740.6"/>
</g></svg>
<!-- MAPEND -->

</body>
</html>
